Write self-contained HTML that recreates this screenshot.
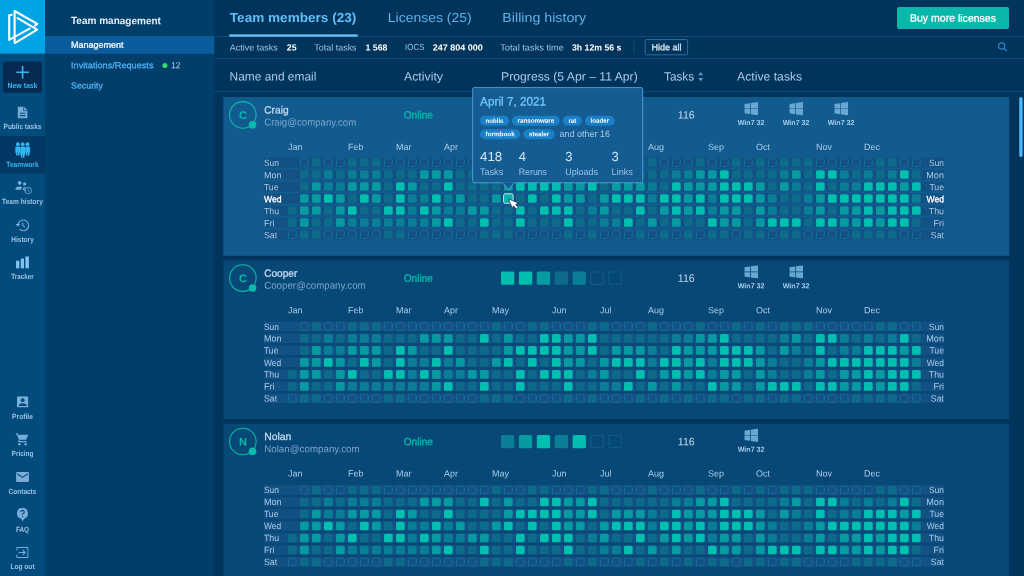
<!DOCTYPE html>
<html><head><meta charset="utf-8"><title>Team management</title>
<style>
html,body{margin:0;padding:0;}
body{width:1024px;height:576px;overflow:hidden;position:relative;background:#01345b;font-family:"Liberation Sans",sans-serif;}
.r{position:absolute;display:block;}
.t{position:absolute;white-space:nowrap;display:block;}
#w{position:absolute;left:0;top:0;width:1024px;height:576px;overflow:hidden;will-change:transform;}
</style></head><body><div id="w">
<svg class="r" style="left:0;top:0" width="1024" height="576" viewBox="0 0 1024 576"><rect x="0.00" y="0.00" width="1024.00" height="576.00" fill="#01345b"/><rect x="45.00" y="0.00" width="169.30" height="576.00" fill="#013e6a"/><rect x="0.00" y="0.00" width="45.00" height="576.00" fill="#014c7d"/><rect x="0.00" y="0.00" width="45.00" height="53.60" fill="#00a4e4"/><rect x="0.00" y="136.00" width="45.00" height="37.60" fill="#043864"/><rect x="45.00" y="36.00" width="169.30" height="17.80" fill="#0b5c9c"/><rect x="214.30" y="36.00" width="810.00" height="1.00" fill="#0d4c80"/><rect x="214.30" y="58.00" width="810.00" height="1.00" fill="#0d4c80"/><rect x="214.30" y="91.20" width="810.00" height="1.00" fill="#0d4c80"/><svg x="0" y="0" width="45" height="54" viewBox="0 0 45 54" fill="none" stroke="#fff" stroke-width="2.1" stroke-linecap="round" stroke-linejoin="round">
<path d="M11.7 14.8 L9.2 15.2 L9.2 39.9 L29.6 28.7"/>
<path d="M14.6 42.6 L14.6 11 L37.2 23.9 L35 25.6"/>
<path d="M17.6 18.1 L37.2 29.7 L15.2 42.8"/>
</svg><rect x="3.00" y="61.60" width="39.00" height="31.20" fill="#052b52" rx="2.5"/><svg x="15" y="64.5" width="15" height="15" viewBox="0 0 15 15" stroke="#33b6f2" stroke-width="1.6" fill="none"><path d="M7.6 1.4V14M1.3 7.7H13.9"/></svg></svg>
<span class="t" style="left:7px;top:80px;font-size:7.6px;line-height:9px;color:#33b6f2;transform-origin:0 7px;font-weight:700;transform:translate(0.55px,0.70px) rotate(0.03deg) scaleX(0.9074);">New task</span>
<span class="t" style="left:3px;top:121px;font-size:7.6px;line-height:9px;color:#9cc1e3;transform-origin:0 7px;font-weight:700;transform:translate(0.55px,0.90px) rotate(0.03deg) scaleX(0.8545);">Public tasks</span>
<span class="t" style="left:6px;top:159px;font-size:7.6px;line-height:9px;color:#33b6f2;transform-origin:0 7px;font-weight:700;transform:translate(0.35px,0.80px) rotate(0.03deg) scaleX(0.8723);">Teamwork</span>
<span class="t" style="left:2px;top:197px;font-size:7.6px;line-height:9px;color:#9cc1e3;transform-origin:0 7px;font-weight:700;transform:translate(0.10px,0.00px) rotate(0.03deg) scaleX(0.8729);">Team history</span>
<span class="t" style="left:11px;top:234px;font-size:7.6px;line-height:9px;color:#9cc1e3;transform-origin:0 7px;font-weight:700;transform:translate(0.20px,0.70px) rotate(0.03deg) scaleX(0.8631);">History</span>
<span class="t" style="left:11px;top:271px;font-size:7.6px;line-height:9px;color:#9cc1e3;transform-origin:0 7px;font-weight:700;transform:translate(0.30px,0.75px) rotate(0.03deg) scaleX(0.8282);">Tracker</span>
<span class="t" style="left:12px;top:411px;font-size:7.6px;line-height:9px;color:#9cc1e3;transform-origin:0 7px;font-weight:700;transform:translate(0.10px,0.50px) rotate(0.03deg) scaleX(0.8795);">Profile</span>
<span class="t" style="left:11px;top:449px;font-size:7.6px;line-height:9px;color:#9cc1e3;transform-origin:0 7px;font-weight:700;transform:translate(0.60px,0.40px) rotate(0.03deg) scaleX(0.8462);">Pricing</span>
<span class="t" style="left:8px;top:486px;font-size:7.6px;line-height:9px;color:#9cc1e3;transform-origin:0 7px;font-weight:700;transform:translate(0.60px,0.90px) rotate(0.03deg) scaleX(0.8550);">Contacts</span>
<span class="t" style="left:15px;top:524px;font-size:7.6px;line-height:9px;color:#9cc1e3;transform-origin:0 7px;font-weight:700;transform:translate(0.90px,0.60px) rotate(0.03deg) scaleX(0.8449);">FAQ</span>
<span class="t" style="left:10px;top:561px;font-size:7.6px;line-height:9px;color:#9cc1e3;transform-origin:0 7px;font-weight:700;transform:translate(0.40px,0.90px) rotate(0.03deg) scaleX(0.8688);">Log out</span>
<svg class="r" style="left:0;top:0" width="1024" height="576" viewBox="0 0 1024 576"><svg x="17.6" y="106.6" width="10" height="12" viewBox="0 0 10 12"><path d="M1.2 0H6.2L10 3.8V10.8Q10 12 8.8 12H1.2Q0 12 0 10.8V1.2Q0 0 1.2 0Z" fill="#79add8"/><path d="M6 0.6V4H9.4" fill="none" stroke="#014c7d" stroke-width="0.8"/><path d="M2.2 6.6H7.8M2.2 9H7.8" stroke="#014c7d" stroke-width="1.1"/></svg><svg x="15" y="142" width="16" height="16" viewBox="0 0 16 16" fill="#33b6f2"><circle cx="2.9" cy="2.2" r="1.9"/><circle cx="7.7" cy="2.2" r="1.9"/><circle cx="12.5" cy="2.2" r="1.9"/><path d="M1.6 4.6H3.9Q5.2 4.6 5.2 5.9V10.2Q5.2 11.0 4.5 11.0V13.6H3.0V10.0H2.5V13.6H1.0V11.0Q0.3 11.0 0.3 10.2V5.9Q0.3 4.6 1.6 4.6Z"/><path d="M6.55 4.6H8.85Q10.15 4.6 10.15 5.9V12.4Q10.15 13.200000000000001 9.45 13.200000000000001V15.8H7.95V12.200000000000001H7.45V15.8H5.95V13.200000000000001Q5.25 13.200000000000001 5.25 12.4V5.9Q5.25 4.6 6.55 4.6Z"/><path d="M11.5 4.6H13.799999999999999Q15.1 4.6 15.1 5.9V10.2Q15.1 11.0 14.399999999999999 11.0V13.6H12.899999999999999V10.0H12.399999999999999V13.6H10.899999999999999V11.0Q10.2 11.0 10.2 10.2V5.9Q10.2 4.6 11.5 4.6Z"/></svg><svg x="15" y="180.5" width="18" height="15" viewBox="0 0 18 15" fill="#79add8">
<circle cx="4.6" cy="2.4" r="1.9"/><circle cx="9.6" cy="3.4" r="1.6"/>
<path d="M0.4 9.2Q0.6 6 4.6 6Q6.4 6 7.2 6.6L5.8 9.2Z"/>
<path d="M7.4 9.2L8.6 6.6Q9.6 6.4 10.6 6.8L9 9.2Z"/>
<circle cx="13.2" cy="10" r="3.3" fill="none" stroke="#79add8" stroke-width="0.8"/>
<path d="M13.2 8V10.2L14.6 11" fill="none" stroke="#79add8" stroke-width="0.7"/>
<path d="M8.6 9.2l1.4 1.8 1.2-1.8z"/>
</svg><svg x="14.5" y="218.5" width="15.75" height="13.65" viewBox="0 0 15 13" fill="none" stroke="#79add8" stroke-width="1.1">
<path d="M3.3 6.5A5.1 5.1 0 1 1 4.8 10.2"/><path d="M7.9 3.8V6.9L10.2 8.2" stroke-width="1"/><path d="M0.8 5.2L3.3 7.6L5.6 5.2Z" fill="#79add8" stroke="none"/>
</svg><rect x="16.00" y="260.70" width="3.40" height="7.60" fill="#84c1ef"/><rect x="20.80" y="258.60" width="3.20" height="9.70" fill="#84c1ef"/><rect x="25.40" y="256.50" width="3.50" height="11.80" fill="#84c1ef"/><svg x="17" y="396.2" width="11.4" height="11.4" viewBox="0 0 12 12"><rect width="12" height="12" rx="1.4" fill="#79add8"/>
<circle cx="6" cy="4.2" r="2" fill="#014c7d"/><path d="M1.8 10.2Q1.8 7.4 6 7.4Q10.2 7.4 10.2 10.2Z" fill="#014c7d"/></svg><svg x="15.4" y="432.8" width="13" height="13" viewBox="0 0 13 13" fill="#79add8">
<path d="M0.2 0.4H2.2L2.9 2H12.4Q12.9 2 12.7 2.6L10.9 6.4Q10.6 7 10 7H4.6L3.9 8.3H11.2V9.5H3.6Q2.2 9.5 2.8 8.2L3.6 6.6L1.4 1.6H0.2Z"/>
<circle cx="4" cy="11.4" r="1.2"/><circle cx="10.2" cy="11.4" r="1.2"/></svg><svg x="16.1" y="472" width="12.8" height="10" viewBox="0 0 12.8 10"><rect width="12.8" height="10" rx="1" fill="#79add8"/><path d="M1 1.8L6.4 5.4L11.8 1.8" fill="none" stroke="#014c7d" stroke-width="1.1"/></svg><svg x="16.5" y="507.6" width="12" height="14" viewBox="0 0 12 14"><path d="M6 0.2A5.6 5.6 0 0 1 8 11L6 13.6L4.6 11.2A5.6 5.6 0 0 1 6 0.2Z" fill="#79add8"/>
<path d="M4.2 4.4Q4.2 2.8 6 2.8Q7.8 2.8 7.8 4.3Q7.8 5.3 6.6 5.9Q6 6.3 6 7.2" fill="none" stroke="#014c7d" stroke-width="1.1"/><circle cx="6" cy="9" r="0.75" fill="#014c7d"/></svg><svg x="16.2" y="546.8" width="12.4" height="11.4" viewBox="0 0 12.4 11.4" fill="none" stroke="#79add8" stroke-width="1.1">
<path d="M0.6 3.6V1.6Q0.6 0.6 1.6 0.6H10.8Q11.8 0.6 11.8 1.6V9.8Q11.8 10.8 10.8 10.8H1.6Q0.6 10.8 0.6 9.8V7.8"/><path d="M2.4 5.7H8.6M6.6 3.4L8.9 5.7L6.6 8"/></svg></svg>
<span class="t" style="left:71px;top:15px;font-size:10.4px;line-height:11px;color:#e6f0fa;transform-origin:0 9px;font-weight:700;transform:translate(0.00px,0.10px) rotate(0.03deg) scaleX(0.9632);">Team management</span>
<span class="t" style="left:71px;top:39px;font-size:8.7px;line-height:10px;color:#f2f7fc;transform-origin:0 8px;-webkit-text-stroke:0.3px currentColor;transform:translate(0.00px,0.80px) rotate(0.03deg) scaleX(1.0358);">Management</span>
<span class="t" style="left:71px;top:60px;font-size:8.7px;line-height:10px;color:#52aef0;transform-origin:0 8px;-webkit-text-stroke:0.3px currentColor;transform:translate(0.00px,0.20px) rotate(0.03deg) scaleX(1.0543);">Invitations/Requests</span>
<svg class="r" style="left:0;top:0" width="1024" height="576" viewBox="0 0 1024 576"><circle cx="164.90" cy="65.40" r="2.50" fill="#2de06a"/></svg>
<span class="t" style="left:171px;top:60px;font-size:8.7px;line-height:10px;color:#b5d3ee;transform-origin:0 8px;transform:translate(0.20px,0.20px) rotate(0.03deg) scaleX(0.9507);">12</span>
<span class="t" style="left:71px;top:80px;font-size:8.7px;line-height:10px;color:#52aef0;transform-origin:0 8px;-webkit-text-stroke:0.3px currentColor;transform:translate(0.00px,0.60px) rotate(0.03deg) scaleX(1.0182);">Security</span>
<span class="t" style="left:229px;top:9px;font-size:13.2px;line-height:15px;color:#62bdf8;transform-origin:0 12px;font-weight:700;transform:translate(0.80px,0.90px) rotate(0.03deg) scaleX(1.0292);">Team members (23)</span>
<svg class="r" style="left:0;top:0" width="1024" height="576" viewBox="0 0 1024 576"><rect x="229.30" y="34.40" width="128.40" height="2.30" fill="#6ac4fb"/></svg>
<span class="t" style="left:387px;top:9px;font-size:13.2px;line-height:15px;color:#62b0ea;transform-origin:0 12px;transform:translate(0.80px,0.90px) rotate(0.03deg) scaleX(1.0601);">Licenses (25)</span>
<span class="t" style="left:502px;top:9px;font-size:13.2px;line-height:15px;color:#62b0ea;transform-origin:0 12px;transform:translate(0.30px,0.90px) rotate(0.03deg) scaleX(1.0802);">Billing history</span>
<svg class="r" style="left:0;top:0" width="1024" height="576" viewBox="0 0 1024 576"><rect x="897.00" y="7.00" width="112.00" height="22.00" fill="#09b8ab" rx="2"/></svg>
<span class="t" style="left:910px;top:11px;font-size:10.6px;line-height:12px;color:#ffffff;transform-origin:0 10px;-webkit-text-stroke:0.3px currentColor;transform:translate(0.00px,0.60px) rotate(0.03deg) scaleX(0.9931);">Buy more licenses</span>
<span class="t" style="left:229px;top:42px;font-size:8.9px;line-height:10px;color:#9cc3e6;transform-origin:0 8px;transform:translate(0.80px,0.40px) rotate(0.03deg) scaleX(1.0151);">Active tasks</span>
<span class="t" style="left:286px;top:42px;font-size:8.9px;line-height:10px;color:#ffffff;transform-origin:0 8px;font-weight:700;transform:translate(0.80px,0.40px) rotate(0.03deg) scaleX(0.9899);">25</span>
<span class="t" style="left:314px;top:42px;font-size:8.9px;line-height:10px;color:#9cc3e6;transform-origin:0 8px;transform:translate(0.30px,0.40px) rotate(0.03deg) scaleX(1.0085);">Total tasks</span>
<span class="t" style="left:365px;top:42px;font-size:8.9px;line-height:10px;color:#ffffff;transform-origin:0 8px;font-weight:700;transform:translate(0.50px,0.40px) rotate(0.03deg) scaleX(0.9833);">1 568</span>
<span class="t" style="left:405px;top:42px;font-size:8.9px;line-height:10px;color:#9cc3e6;transform-origin:0 8px;transform:translate(0.10px,0.40px) rotate(0.03deg) scaleX(0.8916);">IOCS</span>
<span class="t" style="left:432px;top:42px;font-size:8.9px;line-height:10px;color:#ffffff;transform-origin:0 8px;font-weight:700;transform:translate(0.70px,0.40px) rotate(0.03deg) scaleX(1.0163);">247 804 000</span>
<span class="t" style="left:500px;top:42px;font-size:8.9px;line-height:10px;color:#9cc3e6;transform-origin:0 8px;transform:translate(0.20px,0.40px) rotate(0.03deg) scaleX(1.0419);">Total tasks time</span>
<span class="t" style="left:572px;top:42px;font-size:8.9px;line-height:10px;color:#ffffff;transform-origin:0 8px;font-weight:700;transform:translate(0.00px,0.40px) rotate(0.03deg) scaleX(0.9828);">3h 12m 56 s</span>
<svg class="r" style="left:0;top:0" width="1024" height="576" viewBox="0 0 1024 576"><rect x="633.50" y="41.00" width="1.00" height="12.00" fill="#164f80"/><rect x="645.20" y="39.60" width="42.40" height="15.20" fill="none" rx="1.2" stroke="#2c6ea6" stroke-width="1"/></svg>
<span class="t" style="left:651px;top:42px;font-size:8.9px;line-height:10px;color:#d5e6f7;transform-origin:0 8px;-webkit-text-stroke:0.3px currentColor;transform:translate(0.40px,0.20px) rotate(0.03deg) scaleX(1.0175);">Hide all</span>
<svg class="r" style="left:0;top:0" width="1024" height="576" viewBox="0 0 1024 576"><svg x="996" y="40" width="13" height="13" viewBox="0 0 13 13" fill="none" stroke="#2e88c9" stroke-width="1.15"><circle cx="5.7" cy="6" r="3.1"/><path d="M8 8.3L10.8 11"/></svg></svg>
<span class="t" style="left:229px;top:69px;font-size:12px;line-height:14px;color:#a9cae8;transform-origin:0 11px;transform:translate(0.60px,0.50px) rotate(0.03deg) scaleX(0.9923);">Name and email</span>
<span class="t" style="left:403px;top:69px;font-size:12px;line-height:14px;color:#a9cae8;transform-origin:0 11px;transform:translate(0.90px,0.50px) rotate(0.03deg) scaleX(1.0288);">Activity</span>
<span class="t" style="left:501px;top:69px;font-size:12px;line-height:14px;color:#a9cae8;transform-origin:0 11px;transform:translate(0.10px,0.50px) rotate(0.03deg) scaleX(1.0155);">Progress (5 Apr – 11 Apr)</span>
<span class="t" style="left:664px;top:69px;font-size:12px;line-height:14px;color:#a9cae8;transform-origin:0 11px;transform:translate(0.00px,0.50px) rotate(0.03deg) scaleX(0.9813);">Tasks</span>
<svg class="r" style="left:0;top:0" width="1024" height="576" viewBox="0 0 1024 576"><svg x="698.2" y="72" width="5" height="9.4" viewBox="0 0 5 9.4" fill="#6496c4"><path d="M2.5 0L5 3.3H0Z"/><path d="M2.5 9.3L5 6H0Z"/></svg></svg>
<span class="t" style="left:737px;top:69px;font-size:12px;line-height:14px;color:#a9cae8;transform-origin:0 11px;transform:translate(0.10px,0.50px) rotate(0.03deg) scaleX(1.0169);">Active tasks</span>
<svg class="r" style="left:0;top:0" width="1024" height="576" viewBox="0 0 1024 576"><rect x="1019.20" y="97.00" width="3.40" height="60.00" fill="#4db8f8" rx="1.7"/><rect x="223.30" y="97.00" width="785.90" height="158.80" fill="#125b8f"/><circle cx="242.85" cy="114.90" r="13.30" fill="none" stroke="#08bbac" stroke-width="1.1"/></svg>
<span class="t" style="left:238px;top:109px;font-size:11px;line-height:12px;color:#08bbac;transform-origin:0 10px;font-weight:700;transform:translate(0.93px,0.00px) rotate(0.03deg) scaleX(1.0000);">C</span>
<svg class="r" style="left:0;top:0" width="1024" height="576" viewBox="0 0 1024 576"><circle cx="252.60" cy="124.80" r="3.85" fill="#08bbac"/></svg>
<span class="t" style="left:264px;top:104px;font-size:10.4px;line-height:11px;color:#c3daf0;transform-origin:0 9px;-webkit-text-stroke:0.3px currentColor;transform:translate(0.20px,0.50px) rotate(0.03deg) scaleX(0.9818);">Craig</span>
<span class="t" style="left:264px;top:116px;font-size:10.1px;line-height:11px;color:#7ba5cc;transform-origin:0 9px;transform:translate(0.20px,0.60px) rotate(0.03deg) scaleX(0.9543);">Craig@company.com</span>
<span class="t" style="left:403px;top:108px;font-size:10.6px;line-height:12px;color:#08bbac;transform-origin:0 10px;-webkit-text-stroke:0.3px currentColor;transform:translate(0.70px,0.60px) rotate(0.03deg) scaleX(0.9562);">Online</span>
<span class="t" style="left:677px;top:108px;font-size:10.6px;line-height:12px;color:#c5dcf2;transform-origin:0 10px;transform:translate(0.80px,0.60px) rotate(0.03deg) scaleX(1.0060);">116</span>
<svg class="r" style="left:0;top:0" width="1024" height="576" viewBox="0 0 1024 576"><svg x="744.30" y="102.00" width="13.9" height="13.4" viewBox="0 0 13.9 13.4" fill="#68a7d2"><path d="M0 2.1L5.9 1.2V6.4H0Z"/><path d="M6.6 1.1L13.9 0V6.4H6.6Z"/><path d="M0 7H5.9V12.2L0 11.3Z"/><path d="M6.6 7H13.9V13.4L6.6 12.3Z"/></svg></svg>
<span class="t" style="left:737px;top:118px;font-size:7.2px;line-height:9px;color:#a9cdea;transform-origin:0 7px;font-weight:700;transform:translate(0.65px,0.10px) rotate(0.03deg) scaleX(0.9910);">Win7 32</span>
<svg class="r" style="left:0;top:0" width="1024" height="576" viewBox="0 0 1024 576"><svg x="789.30" y="102.00" width="13.9" height="13.4" viewBox="0 0 13.9 13.4" fill="#68a7d2"><path d="M0 2.1L5.9 1.2V6.4H0Z"/><path d="M6.6 1.1L13.9 0V6.4H6.6Z"/><path d="M0 7H5.9V12.2L0 11.3Z"/><path d="M6.6 7H13.9V13.4L6.6 12.3Z"/></svg></svg>
<span class="t" style="left:782px;top:118px;font-size:7.2px;line-height:9px;color:#a9cdea;transform-origin:0 7px;font-weight:700;transform:translate(0.65px,0.10px) rotate(0.03deg) scaleX(0.9910);">Win7 32</span>
<svg class="r" style="left:0;top:0" width="1024" height="576" viewBox="0 0 1024 576"><svg x="834.30" y="102.00" width="13.9" height="13.4" viewBox="0 0 13.9 13.4" fill="#68a7d2"><path d="M0 2.1L5.9 1.2V6.4H0Z"/><path d="M6.6 1.1L13.9 0V6.4H6.6Z"/><path d="M0 7H5.9V12.2L0 11.3Z"/><path d="M6.6 7H13.9V13.4L6.6 12.3Z"/></svg></svg>
<span class="t" style="left:827px;top:118px;font-size:7.2px;line-height:9px;color:#a9cdea;transform-origin:0 7px;font-weight:700;transform:translate(0.65px,0.10px) rotate(0.03deg) scaleX(0.9910);">Win7 32</span>
<span class="t" style="left:288px;top:142px;font-size:9px;line-height:10px;color:#a9cbe8;transform-origin:0 8px;transform:translate(0.00px,0.00px) rotate(0.03deg) scaleX(1.0000);">Jan</span>
<span class="t" style="left:348px;top:142px;font-size:9px;line-height:10px;color:#a9cbe8;transform-origin:0 8px;transform:translate(0.00px,0.00px) rotate(0.03deg) scaleX(1.0000);">Feb</span>
<span class="t" style="left:396px;top:142px;font-size:9px;line-height:10px;color:#a9cbe8;transform-origin:0 8px;transform:translate(0.00px,0.00px) rotate(0.03deg) scaleX(1.0000);">Mar</span>
<span class="t" style="left:444px;top:142px;font-size:9px;line-height:10px;color:#a9cbe8;transform-origin:0 8px;transform:translate(0.00px,0.00px) rotate(0.03deg) scaleX(1.0000);">Apr</span>
<span class="t" style="left:492px;top:142px;font-size:9px;line-height:10px;color:#a9cbe8;transform-origin:0 8px;transform:translate(0.00px,0.00px) rotate(0.03deg) scaleX(1.0000);">May</span>
<span class="t" style="left:552px;top:142px;font-size:9px;line-height:10px;color:#a9cbe8;transform-origin:0 8px;transform:translate(0.00px,0.00px) rotate(0.03deg) scaleX(1.0000);">Jun</span>
<span class="t" style="left:600px;top:142px;font-size:9px;line-height:10px;color:#a9cbe8;transform-origin:0 8px;transform:translate(0.00px,0.00px) rotate(0.03deg) scaleX(1.0000);">Jul</span>
<span class="t" style="left:648px;top:142px;font-size:9px;line-height:10px;color:#a9cbe8;transform-origin:0 8px;transform:translate(0.00px,0.00px) rotate(0.03deg) scaleX(1.0000);">Aug</span>
<span class="t" style="left:708px;top:142px;font-size:9px;line-height:10px;color:#a9cbe8;transform-origin:0 8px;transform:translate(0.00px,0.00px) rotate(0.03deg) scaleX(1.0000);">Sep</span>
<span class="t" style="left:756px;top:142px;font-size:9px;line-height:10px;color:#a9cbe8;transform-origin:0 8px;transform:translate(0.00px,0.00px) rotate(0.03deg) scaleX(1.0000);">Oct</span>
<span class="t" style="left:816px;top:142px;font-size:9px;line-height:10px;color:#a9cbe8;transform-origin:0 8px;transform:translate(0.00px,0.00px) rotate(0.03deg) scaleX(1.0000);">Nov</span>
<span class="t" style="left:864px;top:142px;font-size:9px;line-height:10px;color:#a9cbe8;transform-origin:0 8px;transform:translate(0.00px,0.00px) rotate(0.03deg) scaleX(1.0000);">Dec</span>
<svg class="r" style="left:0;top:0" width="1024" height="576" viewBox="0 0 1024 576"><svg x="264" y="156.50" width="681" height="86" viewBox="0 0 681 86"><rect x="0" y="1.20" width="680.4" height="9.6" fill="#135083"/><rect x="36.5" y="2.15" width="7.7" height="7.7" rx="1" fill="#154f87" stroke="#107094" stroke-width="1"/><rect x="48" y="1.65" width="8.7" height="8.7" rx="1.5" fill="#0e6a8b"/><rect x="60.5" y="2.15" width="7.7" height="7.7" rx="1" fill="#154f87" stroke="#107094" stroke-width="1"/><rect x="72.5" y="2.15" width="7.7" height="7.7" rx="1" fill="#154f87" stroke="#107094" stroke-width="1"/><rect x="84" y="1.65" width="8.7" height="8.7" rx="1.5" fill="#0e6a8b"/><rect x="96" y="1.65" width="8.7" height="8.7" rx="1.5" fill="#0e6a8b"/><rect x="108" y="1.65" width="8.7" height="8.7" rx="1.5" fill="#0e6a8b"/><rect x="120.5" y="2.15" width="7.7" height="7.7" rx="1" fill="#154f87" stroke="#107094" stroke-width="1"/><rect x="132.5" y="2.15" width="7.7" height="7.7" rx="1" fill="#154f87" stroke="#107094" stroke-width="1"/><rect x="144.5" y="2.15" width="7.7" height="7.7" rx="1" fill="#154f87" stroke="#107094" stroke-width="1"/><rect x="156.5" y="2.15" width="7.7" height="7.7" rx="1" fill="#154f87" stroke="#107094" stroke-width="1"/><rect x="168.5" y="2.15" width="7.7" height="7.7" rx="1" fill="#154f87" stroke="#107094" stroke-width="1"/><rect x="180.5" y="2.15" width="7.7" height="7.7" rx="1" fill="#154f87" stroke="#107094" stroke-width="1"/><rect x="192.5" y="2.15" width="7.7" height="7.7" rx="1" fill="#154f87" stroke="#107094" stroke-width="1"/><rect x="204.5" y="2.15" width="7.7" height="7.7" rx="1" fill="#154f87" stroke="#107094" stroke-width="1"/><rect x="216.5" y="2.15" width="7.7" height="7.7" rx="1" fill="#154f87" stroke="#107094" stroke-width="1"/><rect x="228" y="1.65" width="8.7" height="8.7" rx="1.5" fill="#0e6a8b"/><rect x="240.5" y="2.15" width="7.7" height="7.7" rx="1" fill="#154f87" stroke="#107094" stroke-width="1"/><rect x="252.5" y="2.15" width="7.7" height="7.7" rx="1" fill="#154f87" stroke="#107094" stroke-width="1"/><rect x="264" y="1.65" width="8.7" height="8.7" rx="1.5" fill="#0e6a8b"/><rect x="276" y="1.65" width="8.7" height="8.7" rx="1.5" fill="#0e6a8b"/><rect x="288.5" y="2.15" width="7.7" height="7.7" rx="1" fill="#154f87" stroke="#107094" stroke-width="1"/><rect x="300.5" y="2.15" width="7.7" height="7.7" rx="1" fill="#154f87" stroke="#107094" stroke-width="1"/><rect x="312.5" y="2.15" width="7.7" height="7.7" rx="1" fill="#154f87" stroke="#107094" stroke-width="1"/><rect x="324" y="1.65" width="8.7" height="8.7" rx="1.5" fill="#0e6a8b"/><rect x="336" y="1.65" width="8.7" height="8.7" rx="1.5" fill="#0e6a8b"/><rect x="348.5" y="2.15" width="7.7" height="7.7" rx="1" fill="#154f87" stroke="#107094" stroke-width="1"/><rect x="360.5" y="2.15" width="7.7" height="7.7" rx="1" fill="#154f87" stroke="#107094" stroke-width="1"/><rect x="372.5" y="2.15" width="7.7" height="7.7" rx="1" fill="#154f87" stroke="#107094" stroke-width="1"/><rect x="384" y="1.65" width="8.7" height="8.7" rx="1.5" fill="#0e6a8b"/><rect x="396.5" y="2.15" width="7.7" height="7.7" rx="1" fill="#154f87" stroke="#107094" stroke-width="1"/><rect x="408.5" y="2.15" width="7.7" height="7.7" rx="1" fill="#154f87" stroke="#107094" stroke-width="1"/><rect x="420.5" y="2.15" width="7.7" height="7.7" rx="1" fill="#154f87" stroke="#107094" stroke-width="1"/><rect x="432" y="1.65" width="8.7" height="8.7" rx="1.5" fill="#0e6a8b"/><rect x="444.5" y="2.15" width="7.7" height="7.7" rx="1" fill="#154f87" stroke="#107094" stroke-width="1"/><rect x="456.5" y="2.15" width="7.7" height="7.7" rx="1" fill="#154f87" stroke="#107094" stroke-width="1"/><rect x="468" y="1.65" width="8.7" height="8.7" rx="1.5" fill="#0e6a8b"/><rect x="480.5" y="2.15" width="7.7" height="7.7" rx="1" fill="#154f87" stroke="#107094" stroke-width="1"/><rect x="492" y="1.65" width="8.7" height="8.7" rx="1.5" fill="#0e6a8b"/><rect x="504.5" y="2.15" width="7.7" height="7.7" rx="1" fill="#154f87" stroke="#107094" stroke-width="1"/><rect x="516" y="1.65" width="8.7" height="8.7" rx="1.5" fill="#0e6a8b"/><rect x="528" y="1.65" width="8.7" height="8.7" rx="1.5" fill="#0e6a8b"/><rect x="540" y="1.65" width="8.7" height="8.7" rx="1.5" fill="#0e6a8b"/><rect x="552.5" y="2.15" width="7.7" height="7.7" rx="1" fill="#154f87" stroke="#107094" stroke-width="1"/><rect x="564.5" y="2.15" width="7.7" height="7.7" rx="1" fill="#154f87" stroke="#107094" stroke-width="1"/><rect x="576.5" y="2.15" width="7.7" height="7.7" rx="1" fill="#154f87" stroke="#107094" stroke-width="1"/><rect x="588.5" y="2.15" width="7.7" height="7.7" rx="1" fill="#154f87" stroke="#107094" stroke-width="1"/><rect x="600.5" y="2.15" width="7.7" height="7.7" rx="1" fill="#154f87" stroke="#107094" stroke-width="1"/><rect x="612" y="1.65" width="8.7" height="8.7" rx="1.5" fill="#0e6a8b"/><rect x="624" y="1.65" width="8.7" height="8.7" rx="1.5" fill="#0e6a8b"/><rect x="636.5" y="2.15" width="7.7" height="7.7" rx="1" fill="#154f87" stroke="#107094" stroke-width="1"/><rect x="648.5" y="2.15" width="7.7" height="7.7" rx="1" fill="#154f87" stroke="#107094" stroke-width="1"/><rect x="0" y="13.20" width="680.4" height="9.6" fill="#135083"/><rect x="36" y="13.65" width="8.7" height="8.7" rx="1.5" fill="#0e6a8b"/><rect x="48" y="13.65" width="8.7" height="8.7" rx="1.5" fill="#0e6a8b"/><rect x="60" y="13.65" width="8.7" height="8.7" rx="1.5" fill="#0b7e97"/><rect x="72" y="13.65" width="8.7" height="8.7" rx="1.5" fill="#0e6a8b"/><rect x="84" y="13.65" width="8.7" height="8.7" rx="1.5" fill="#0b7e97"/><rect x="96" y="13.65" width="8.7" height="8.7" rx="1.5" fill="#0b7e97"/><rect x="108" y="13.65" width="8.7" height="8.7" rx="1.5" fill="#0b7e97"/><rect x="120" y="13.65" width="8.7" height="8.7" rx="1.5" fill="#0e6a8b"/><rect x="132" y="13.65" width="8.7" height="8.7" rx="1.5" fill="#0e6a8b"/><rect x="144" y="13.65" width="8.7" height="8.7" rx="1.5" fill="#0e6a8b"/><rect x="156" y="13.65" width="8.7" height="8.7" rx="1.5" fill="#079ba1"/><rect x="168" y="13.65" width="8.7" height="8.7" rx="1.5" fill="#079ba1"/><rect x="180" y="13.65" width="8.7" height="8.7" rx="1.5" fill="#079ba1"/><rect x="192" y="13.65" width="8.7" height="8.7" rx="1.5" fill="#0e6a8b"/><rect x="204" y="13.65" width="8.7" height="8.7" rx="1.5" fill="#0e6a8b"/><rect x="216" y="13.65" width="8.7" height="8.7" rx="1.5" fill="#00bfb0"/><rect x="228" y="13.65" width="8.7" height="8.7" rx="1.5" fill="#0e6a8b"/><rect x="240" y="13.65" width="8.7" height="8.7" rx="1.5" fill="#079ba1"/><rect x="252" y="13.65" width="8.7" height="8.7" rx="1.5" fill="#0e6a8b"/><rect x="264" y="13.65" width="8.7" height="8.7" rx="1.5" fill="#0e6a8b"/><rect x="276" y="13.65" width="8.7" height="8.7" rx="1.5" fill="#00bfb0"/><rect x="288" y="13.65" width="8.7" height="8.7" rx="1.5" fill="#00bfb0"/><rect x="300" y="13.65" width="8.7" height="8.7" rx="1.5" fill="#079ba1"/><rect x="312" y="13.65" width="8.7" height="8.7" rx="1.5" fill="#079ba1"/><rect x="324" y="13.65" width="8.7" height="8.7" rx="1.5" fill="#00bfb0"/><rect x="336" y="13.65" width="8.7" height="8.7" rx="1.5" fill="#0e6a8b"/><rect x="348" y="13.65" width="8.7" height="8.7" rx="1.5" fill="#0e6a8b"/><rect x="360" y="13.65" width="8.7" height="8.7" rx="1.5" fill="#0e6a8b"/><rect x="372" y="13.65" width="8.7" height="8.7" rx="1.5" fill="#0e6a8b"/><rect x="384" y="13.65" width="8.7" height="8.7" rx="1.5" fill="#0e6a8b"/><rect x="396" y="13.65" width="8.7" height="8.7" rx="1.5" fill="#0e6a8b"/><rect x="408" y="13.65" width="8.7" height="8.7" rx="1.5" fill="#0b7e97"/><rect x="420" y="13.65" width="8.7" height="8.7" rx="1.5" fill="#0b7e97"/><rect x="432" y="13.65" width="8.7" height="8.7" rx="1.5" fill="#079ba1"/><rect x="444" y="13.65" width="8.7" height="8.7" rx="1.5" fill="#079ba1"/><rect x="456" y="13.65" width="8.7" height="8.7" rx="1.5" fill="#00bfb0"/><rect x="468" y="13.65" width="8.7" height="8.7" rx="1.5" fill="#0e6a8b"/><rect x="480" y="13.65" width="8.7" height="8.7" rx="1.5" fill="#0e6a8b"/><rect x="492" y="13.65" width="8.7" height="8.7" rx="1.5" fill="#0e6a8b"/><rect x="504" y="13.65" width="8.7" height="8.7" rx="1.5" fill="#0e6a8b"/><rect x="516" y="13.65" width="8.7" height="8.7" rx="1.5" fill="#0b7e97"/><rect x="528" y="13.65" width="8.7" height="8.7" rx="1.5" fill="#079ba1"/><rect x="540" y="13.65" width="8.7" height="8.7" rx="1.5" fill="#0e6a8b"/><rect x="552" y="13.65" width="8.7" height="8.7" rx="1.5" fill="#00bfb0"/><rect x="564" y="13.65" width="8.7" height="8.7" rx="1.5" fill="#00bfb0"/><rect x="576" y="13.65" width="8.7" height="8.7" rx="1.5" fill="#0b7e97"/><rect x="588" y="13.65" width="8.7" height="8.7" rx="1.5" fill="#0e6a8b"/><rect x="600" y="13.65" width="8.7" height="8.7" rx="1.5" fill="#0b7e97"/><rect x="612" y="13.65" width="8.7" height="8.7" rx="1.5" fill="#0e6a8b"/><rect x="624" y="13.65" width="8.7" height="8.7" rx="1.5" fill="#0b7e97"/><rect x="636" y="13.65" width="8.7" height="8.7" rx="1.5" fill="#00bfb0"/><rect x="648" y="13.65" width="8.7" height="8.7" rx="1.5" fill="#0e6a8b"/><rect x="0" y="25.20" width="680.4" height="9.6" fill="#135083"/><rect x="36" y="25.65" width="8.7" height="8.7" rx="1.5" fill="#0e6a8b"/><rect x="48" y="25.65" width="8.7" height="8.7" rx="1.5" fill="#079ba1"/><rect x="60" y="25.65" width="8.7" height="8.7" rx="1.5" fill="#0b7e97"/><rect x="72" y="25.65" width="8.7" height="8.7" rx="1.5" fill="#0b7e97"/><rect x="84" y="25.65" width="8.7" height="8.7" rx="1.5" fill="#079ba1"/><rect x="96" y="25.65" width="8.7" height="8.7" rx="1.5" fill="#079ba1"/><rect x="108" y="25.65" width="8.7" height="8.7" rx="1.5" fill="#079ba1"/><rect x="120" y="25.65" width="8.7" height="8.7" rx="1.5" fill="#0e6a8b"/><rect x="132" y="25.65" width="8.7" height="8.7" rx="1.5" fill="#00bfb0"/><rect x="144" y="25.65" width="8.7" height="8.7" rx="1.5" fill="#079ba1"/><rect x="156" y="25.65" width="8.7" height="8.7" rx="1.5" fill="#0e6a8b"/><rect x="168" y="25.65" width="8.7" height="8.7" rx="1.5" fill="#0e6a8b"/><rect x="180" y="25.65" width="8.7" height="8.7" rx="1.5" fill="#00bfb0"/><rect x="192" y="25.65" width="8.7" height="8.7" rx="1.5" fill="#0e6a8b"/><rect x="204" y="25.65" width="8.7" height="8.7" rx="1.5" fill="#0e6a8b"/><rect x="216" y="25.65" width="8.7" height="8.7" rx="1.5" fill="#0e6a8b"/><rect x="228" y="25.65" width="8.7" height="8.7" rx="1.5" fill="#0e6a8b"/><rect x="240" y="25.65" width="8.7" height="8.7" rx="1.5" fill="#079ba1"/><rect x="252" y="25.65" width="8.7" height="8.7" rx="1.5" fill="#00bfb0"/><rect x="264" y="25.65" width="8.7" height="8.7" rx="1.5" fill="#00bfb0"/><rect x="276" y="25.65" width="8.7" height="8.7" rx="1.5" fill="#00bfb0"/><rect x="288" y="25.65" width="8.7" height="8.7" rx="1.5" fill="#00bfb0"/><rect x="300" y="25.65" width="8.7" height="8.7" rx="1.5" fill="#079ba1"/><rect x="312" y="25.65" width="8.7" height="8.7" rx="1.5" fill="#079ba1"/><rect x="324" y="25.65" width="8.7" height="8.7" rx="1.5" fill="#00bfb0"/><rect x="336" y="25.65" width="8.7" height="8.7" rx="1.5" fill="#0e6a8b"/><rect x="348" y="25.65" width="8.7" height="8.7" rx="1.5" fill="#079ba1"/><rect x="360" y="25.65" width="8.7" height="8.7" rx="1.5" fill="#079ba1"/><rect x="372" y="25.65" width="8.7" height="8.7" rx="1.5" fill="#079ba1"/><rect x="384" y="25.65" width="8.7" height="8.7" rx="1.5" fill="#0b7e97"/><rect x="396" y="25.65" width="8.7" height="8.7" rx="1.5" fill="#0e6a8b"/><rect x="408" y="25.65" width="8.7" height="8.7" rx="1.5" fill="#00bfb0"/><rect x="420" y="25.65" width="8.7" height="8.7" rx="1.5" fill="#079ba1"/><rect x="432" y="25.65" width="8.7" height="8.7" rx="1.5" fill="#079ba1"/><rect x="444" y="25.65" width="8.7" height="8.7" rx="1.5" fill="#079ba1"/><rect x="456" y="25.65" width="8.7" height="8.7" rx="1.5" fill="#00bfb0"/><rect x="468" y="25.65" width="8.7" height="8.7" rx="1.5" fill="#00bfb0"/><rect x="480" y="25.65" width="8.7" height="8.7" rx="1.5" fill="#00bfb0"/><rect x="492" y="25.65" width="8.7" height="8.7" rx="1.5" fill="#079ba1"/><rect x="504" y="25.65" width="8.7" height="8.7" rx="1.5" fill="#0e6a8b"/><rect x="516" y="25.65" width="8.7" height="8.7" rx="1.5" fill="#079ba1"/><rect x="528" y="25.65" width="8.7" height="8.7" rx="1.5" fill="#0b7e97"/><rect x="540" y="25.65" width="8.7" height="8.7" rx="1.5" fill="#0e6a8b"/><rect x="552" y="25.65" width="8.7" height="8.7" rx="1.5" fill="#00bfb0"/><rect x="564" y="25.65" width="8.7" height="8.7" rx="1.5" fill="#0e6a8b"/><rect x="576" y="25.65" width="8.7" height="8.7" rx="1.5" fill="#0b7e97"/><rect x="588" y="25.65" width="8.7" height="8.7" rx="1.5" fill="#0b7e97"/><rect x="600" y="25.65" width="8.7" height="8.7" rx="1.5" fill="#00bfb0"/><rect x="612" y="25.65" width="8.7" height="8.7" rx="1.5" fill="#00bfb0"/><rect x="624" y="25.65" width="8.7" height="8.7" rx="1.5" fill="#00bfb0"/><rect x="636" y="25.65" width="8.7" height="8.7" rx="1.5" fill="#079ba1"/><rect x="648" y="25.65" width="8.7" height="8.7" rx="1.5" fill="#00bfb0"/><rect x="0" y="37.20" width="680.4" height="9.6" fill="#135083"/><rect x="36" y="37.65" width="8.7" height="8.7" rx="1.5" fill="#079ba1"/><rect x="48" y="37.65" width="8.7" height="8.7" rx="1.5" fill="#079ba1"/><rect x="60" y="37.65" width="8.7" height="8.7" rx="1.5" fill="#00bfb0"/><rect x="72" y="37.65" width="8.7" height="8.7" rx="1.5" fill="#079ba1"/><rect x="84" y="37.65" width="8.7" height="8.7" rx="1.5" fill="#0e6a8b"/><rect x="96" y="37.65" width="8.7" height="8.7" rx="1.5" fill="#00bfb0"/><rect x="108" y="37.65" width="8.7" height="8.7" rx="1.5" fill="#079ba1"/><rect x="120" y="37.65" width="8.7" height="8.7" rx="1.5" fill="#0e6a8b"/><rect x="132" y="37.65" width="8.7" height="8.7" rx="1.5" fill="#00bfb0"/><rect x="144" y="37.65" width="8.7" height="8.7" rx="1.5" fill="#0b7e97"/><rect x="156" y="37.65" width="8.7" height="8.7" rx="1.5" fill="#0b7e97"/><rect x="168" y="37.65" width="8.7" height="8.7" rx="1.5" fill="#00bfb0"/><rect x="180" y="37.65" width="8.7" height="8.7" rx="1.5" fill="#0b7e97"/><rect x="192" y="37.65" width="8.7" height="8.7" rx="1.5" fill="#079ba1"/><rect x="204" y="37.65" width="8.7" height="8.7" rx="1.5" fill="#0e6a8b"/><rect x="216" y="37.65" width="8.7" height="8.7" rx="1.5" fill="#0e6a8b"/><rect x="228" y="37.65" width="8.7" height="8.7" rx="1.5" fill="#079ba1"/><rect x="240" y="37.65" width="8.7" height="8.7" rx="1.5" fill="#00bfb0"/><rect x="252" y="37.65" width="8.7" height="8.7" rx="1.5" fill="#0e6a8b"/><rect x="264" y="37.65" width="8.7" height="8.7" rx="1.5" fill="#00bfb0"/><rect x="276" y="37.65" width="8.7" height="8.7" rx="1.5" fill="#0e6a8b"/><rect x="288" y="37.65" width="8.7" height="8.7" rx="1.5" fill="#00bfb0"/><rect x="300" y="37.65" width="8.7" height="8.7" rx="1.5" fill="#079ba1"/><rect x="312" y="37.65" width="8.7" height="8.7" rx="1.5" fill="#079ba1"/><rect x="324" y="37.65" width="8.7" height="8.7" rx="1.5" fill="#0e6a8b"/><rect x="336" y="37.65" width="8.7" height="8.7" rx="1.5" fill="#079ba1"/><rect x="348" y="37.65" width="8.7" height="8.7" rx="1.5" fill="#00bfb0"/><rect x="360" y="37.65" width="8.7" height="8.7" rx="1.5" fill="#00bfb0"/><rect x="372" y="37.65" width="8.7" height="8.7" rx="1.5" fill="#00bfb0"/><rect x="384" y="37.65" width="8.7" height="8.7" rx="1.5" fill="#0b7e97"/><rect x="396" y="37.65" width="8.7" height="8.7" rx="1.5" fill="#00bfb0"/><rect x="408" y="37.65" width="8.7" height="8.7" rx="1.5" fill="#00bfb0"/><rect x="420" y="37.65" width="8.7" height="8.7" rx="1.5" fill="#079ba1"/><rect x="432" y="37.65" width="8.7" height="8.7" rx="1.5" fill="#00bfb0"/><rect x="444" y="37.65" width="8.7" height="8.7" rx="1.5" fill="#0b7e97"/><rect x="456" y="37.65" width="8.7" height="8.7" rx="1.5" fill="#00bfb0"/><rect x="468" y="37.65" width="8.7" height="8.7" rx="1.5" fill="#00bfb0"/><rect x="480" y="37.65" width="8.7" height="8.7" rx="1.5" fill="#00bfb0"/><rect x="492" y="37.65" width="8.7" height="8.7" rx="1.5" fill="#079ba1"/><rect x="504" y="37.65" width="8.7" height="8.7" rx="1.5" fill="#0b7e97"/><rect x="516" y="37.65" width="8.7" height="8.7" rx="1.5" fill="#0e6a8b"/><rect x="528" y="37.65" width="8.7" height="8.7" rx="1.5" fill="#0e6a8b"/><rect x="540" y="37.65" width="8.7" height="8.7" rx="1.5" fill="#0b7e97"/><rect x="552" y="37.65" width="8.7" height="8.7" rx="1.5" fill="#079ba1"/><rect x="564" y="37.65" width="8.7" height="8.7" rx="1.5" fill="#00bfb0"/><rect x="576" y="37.65" width="8.7" height="8.7" rx="1.5" fill="#00bfb0"/><rect x="588" y="37.65" width="8.7" height="8.7" rx="1.5" fill="#00bfb0"/><rect x="600" y="37.65" width="8.7" height="8.7" rx="1.5" fill="#00bfb0"/><rect x="612" y="37.65" width="8.7" height="8.7" rx="1.5" fill="#00bfb0"/><rect x="624" y="37.65" width="8.7" height="8.7" rx="1.5" fill="#00bfb0"/><rect x="636" y="37.65" width="8.7" height="8.7" rx="1.5" fill="#00bfb0"/><rect x="648" y="37.65" width="8.7" height="8.7" rx="1.5" fill="#0b7e97"/><rect x="239.6" y="37.25" width="9.5" height="9.5" rx="1.6" fill="#06b1a8" stroke="#d8f2f6" stroke-width="0.9"/><rect x="0" y="49.20" width="680.4" height="9.6" fill="#135083"/><rect x="24" y="49.65" width="8.7" height="8.7" rx="1.5" fill="#0e6a8b"/><rect x="36" y="49.65" width="8.7" height="8.7" rx="1.5" fill="#079ba1"/><rect x="48" y="49.65" width="8.7" height="8.7" rx="1.5" fill="#079ba1"/><rect x="60" y="49.65" width="8.7" height="8.7" rx="1.5" fill="#0e6a8b"/><rect x="72" y="49.65" width="8.7" height="8.7" rx="1.5" fill="#079ba1"/><rect x="84" y="49.65" width="8.7" height="8.7" rx="1.5" fill="#00bfb0"/><rect x="96" y="49.65" width="8.7" height="8.7" rx="1.5" fill="#0e6a8b"/><rect x="108" y="49.65" width="8.7" height="8.7" rx="1.5" fill="#0e6a8b"/><rect x="120" y="49.65" width="8.7" height="8.7" rx="1.5" fill="#00bfb0"/><rect x="132" y="49.65" width="8.7" height="8.7" rx="1.5" fill="#00bfb0"/><rect x="144" y="49.65" width="8.7" height="8.7" rx="1.5" fill="#0b7e97"/><rect x="156" y="49.65" width="8.7" height="8.7" rx="1.5" fill="#00bfb0"/><rect x="168" y="49.65" width="8.7" height="8.7" rx="1.5" fill="#079ba1"/><rect x="180" y="49.65" width="8.7" height="8.7" rx="1.5" fill="#0b7e97"/><rect x="192" y="49.65" width="8.7" height="8.7" rx="1.5" fill="#0b7e97"/><rect x="204" y="49.65" width="8.7" height="8.7" rx="1.5" fill="#079ba1"/><rect x="216" y="49.65" width="8.7" height="8.7" rx="1.5" fill="#079ba1"/><rect x="228" y="49.65" width="8.7" height="8.7" rx="1.5" fill="#0e6a8b"/><rect x="240" y="49.65" width="8.7" height="8.7" rx="1.5" fill="#0e6a8b"/><rect x="252" y="49.65" width="8.7" height="8.7" rx="1.5" fill="#00bfb0"/><rect x="264" y="49.65" width="8.7" height="8.7" rx="1.5" fill="#0e6a8b"/><rect x="276" y="49.65" width="8.7" height="8.7" rx="1.5" fill="#00bfb0"/><rect x="288" y="49.65" width="8.7" height="8.7" rx="1.5" fill="#00bfb0"/><rect x="300" y="49.65" width="8.7" height="8.7" rx="1.5" fill="#00bfb0"/><rect x="312" y="49.65" width="8.7" height="8.7" rx="1.5" fill="#0e6a8b"/><rect x="324" y="49.65" width="8.7" height="8.7" rx="1.5" fill="#0b7e97"/><rect x="336" y="49.65" width="8.7" height="8.7" rx="1.5" fill="#079ba1"/><rect x="348" y="49.65" width="8.7" height="8.7" rx="1.5" fill="#0e6a8b"/><rect x="360" y="49.65" width="8.7" height="8.7" rx="1.5" fill="#0e6a8b"/><rect x="372" y="49.65" width="8.7" height="8.7" rx="1.5" fill="#00bfb0"/><rect x="384" y="49.65" width="8.7" height="8.7" rx="1.5" fill="#0e6a8b"/><rect x="396" y="49.65" width="8.7" height="8.7" rx="1.5" fill="#079ba1"/><rect x="408" y="49.65" width="8.7" height="8.7" rx="1.5" fill="#00bfb0"/><rect x="420" y="49.65" width="8.7" height="8.7" rx="1.5" fill="#079ba1"/><rect x="432" y="49.65" width="8.7" height="8.7" rx="1.5" fill="#00bfb0"/><rect x="444" y="49.65" width="8.7" height="8.7" rx="1.5" fill="#0b7e97"/><rect x="456" y="49.65" width="8.7" height="8.7" rx="1.5" fill="#079ba1"/><rect x="468" y="49.65" width="8.7" height="8.7" rx="1.5" fill="#079ba1"/><rect x="480" y="49.65" width="8.7" height="8.7" rx="1.5" fill="#0e6a8b"/><rect x="492" y="49.65" width="8.7" height="8.7" rx="1.5" fill="#079ba1"/><rect x="504" y="49.65" width="8.7" height="8.7" rx="1.5" fill="#0b7e97"/><rect x="516" y="49.65" width="8.7" height="8.7" rx="1.5" fill="#0e6a8b"/><rect x="528" y="49.65" width="8.7" height="8.7" rx="1.5" fill="#0e6a8b"/><rect x="540" y="49.65" width="8.7" height="8.7" rx="1.5" fill="#0b7e97"/><rect x="552" y="49.65" width="8.7" height="8.7" rx="1.5" fill="#079ba1"/><rect x="564" y="49.65" width="8.7" height="8.7" rx="1.5" fill="#0e6a8b"/><rect x="576" y="49.65" width="8.7" height="8.7" rx="1.5" fill="#079ba1"/><rect x="588" y="49.65" width="8.7" height="8.7" rx="1.5" fill="#079ba1"/><rect x="600" y="49.65" width="8.7" height="8.7" rx="1.5" fill="#00bfb0"/><rect x="612" y="49.65" width="8.7" height="8.7" rx="1.5" fill="#079ba1"/><rect x="624" y="49.65" width="8.7" height="8.7" rx="1.5" fill="#00bfb0"/><rect x="636" y="49.65" width="8.7" height="8.7" rx="1.5" fill="#00bfb0"/><rect x="648" y="49.65" width="8.7" height="8.7" rx="1.5" fill="#00bfb0"/><rect x="0" y="61.20" width="680.4" height="9.6" fill="#135083"/><rect x="24" y="61.65" width="8.7" height="8.7" rx="1.5" fill="#0e6a8b"/><rect x="36" y="61.65" width="8.7" height="8.7" rx="1.5" fill="#079ba1"/><rect x="48" y="61.65" width="8.7" height="8.7" rx="1.5" fill="#0e6a8b"/><rect x="60" y="61.65" width="8.7" height="8.7" rx="1.5" fill="#0e6a8b"/><rect x="72" y="61.65" width="8.7" height="8.7" rx="1.5" fill="#079ba1"/><rect x="84" y="61.65" width="8.7" height="8.7" rx="1.5" fill="#0b7e97"/><rect x="96" y="61.65" width="8.7" height="8.7" rx="1.5" fill="#0b7e97"/><rect x="108" y="61.65" width="8.7" height="8.7" rx="1.5" fill="#0b7e97"/><rect x="120" y="61.65" width="8.7" height="8.7" rx="1.5" fill="#0b7e97"/><rect x="132" y="61.65" width="8.7" height="8.7" rx="1.5" fill="#0b7e97"/><rect x="144" y="61.65" width="8.7" height="8.7" rx="1.5" fill="#0b7e97"/><rect x="156" y="61.65" width="8.7" height="8.7" rx="1.5" fill="#0b7e97"/><rect x="168" y="61.65" width="8.7" height="8.7" rx="1.5" fill="#079ba1"/><rect x="180" y="61.65" width="8.7" height="8.7" rx="1.5" fill="#00bfb0"/><rect x="192" y="61.65" width="8.7" height="8.7" rx="1.5" fill="#0e6a8b"/><rect x="204" y="61.65" width="8.7" height="8.7" rx="1.5" fill="#0e6a8b"/><rect x="216" y="61.65" width="8.7" height="8.7" rx="1.5" fill="#00bfb0"/><rect x="228" y="61.65" width="8.7" height="8.7" rx="1.5" fill="#0e6a8b"/><rect x="240" y="61.65" width="8.7" height="8.7" rx="1.5" fill="#0e6a8b"/><rect x="252" y="61.65" width="8.7" height="8.7" rx="1.5" fill="#00bfb0"/><rect x="264" y="61.65" width="8.7" height="8.7" rx="1.5" fill="#0e6a8b"/><rect x="276" y="61.65" width="8.7" height="8.7" rx="1.5" fill="#0e6a8b"/><rect x="288" y="61.65" width="8.7" height="8.7" rx="1.5" fill="#0e6a8b"/><rect x="300" y="61.65" width="8.7" height="8.7" rx="1.5" fill="#00bfb0"/><rect x="312" y="61.65" width="8.7" height="8.7" rx="1.5" fill="#0e6a8b"/><rect x="324" y="61.65" width="8.7" height="8.7" rx="1.5" fill="#0e6a8b"/><rect x="336" y="61.65" width="8.7" height="8.7" rx="1.5" fill="#0b7e97"/><rect x="348" y="61.65" width="8.7" height="8.7" rx="1.5" fill="#0b7e97"/><rect x="360" y="61.65" width="8.7" height="8.7" rx="1.5" fill="#00bfb0"/><rect x="372" y="61.65" width="8.7" height="8.7" rx="1.5" fill="#0e6a8b"/><rect x="384" y="61.65" width="8.7" height="8.7" rx="1.5" fill="#079ba1"/><rect x="396" y="61.65" width="8.7" height="8.7" rx="1.5" fill="#0e6a8b"/><rect x="408" y="61.65" width="8.7" height="8.7" rx="1.5" fill="#079ba1"/><rect x="420" y="61.65" width="8.7" height="8.7" rx="1.5" fill="#0e6a8b"/><rect x="432" y="61.65" width="8.7" height="8.7" rx="1.5" fill="#0e6a8b"/><rect x="444" y="61.65" width="8.7" height="8.7" rx="1.5" fill="#00bfb0"/><rect x="456" y="61.65" width="8.7" height="8.7" rx="1.5" fill="#079ba1"/><rect x="468" y="61.65" width="8.7" height="8.7" rx="1.5" fill="#079ba1"/><rect x="480" y="61.65" width="8.7" height="8.7" rx="1.5" fill="#0e6a8b"/><rect x="492" y="61.65" width="8.7" height="8.7" rx="1.5" fill="#079ba1"/><rect x="504" y="61.65" width="8.7" height="8.7" rx="1.5" fill="#00bfb0"/><rect x="516" y="61.65" width="8.7" height="8.7" rx="1.5" fill="#00bfb0"/><rect x="528" y="61.65" width="8.7" height="8.7" rx="1.5" fill="#00bfb0"/><rect x="540" y="61.65" width="8.7" height="8.7" rx="1.5" fill="#0e6a8b"/><rect x="552" y="61.65" width="8.7" height="8.7" rx="1.5" fill="#00bfb0"/><rect x="564" y="61.65" width="8.7" height="8.7" rx="1.5" fill="#00bfb0"/><rect x="576" y="61.65" width="8.7" height="8.7" rx="1.5" fill="#079ba1"/><rect x="588" y="61.65" width="8.7" height="8.7" rx="1.5" fill="#079ba1"/><rect x="600" y="61.65" width="8.7" height="8.7" rx="1.5" fill="#00bfb0"/><rect x="612" y="61.65" width="8.7" height="8.7" rx="1.5" fill="#079ba1"/><rect x="624" y="61.65" width="8.7" height="8.7" rx="1.5" fill="#00bfb0"/><rect x="636" y="61.65" width="8.7" height="8.7" rx="1.5" fill="#00bfb0"/><rect x="648" y="61.65" width="8.7" height="8.7" rx="1.5" fill="#0e6a8b"/><rect x="0" y="73.20" width="680.4" height="9.6" fill="#135083"/><rect x="24.5" y="74.15" width="7.7" height="7.7" rx="1" fill="#154f87" stroke="#107094" stroke-width="1"/><rect x="36" y="73.65" width="8.7" height="8.7" rx="1.5" fill="#0e6a8b"/><rect x="48" y="73.65" width="8.7" height="8.7" rx="1.5" fill="#0e6a8b"/><rect x="60.5" y="74.15" width="7.7" height="7.7" rx="1" fill="#154f87" stroke="#107094" stroke-width="1"/><rect x="72.5" y="74.15" width="7.7" height="7.7" rx="1" fill="#154f87" stroke="#107094" stroke-width="1"/><rect x="84.5" y="74.15" width="7.7" height="7.7" rx="1" fill="#154f87" stroke="#107094" stroke-width="1"/><rect x="96.5" y="74.15" width="7.7" height="7.7" rx="1" fill="#154f87" stroke="#107094" stroke-width="1"/><rect x="108.5" y="74.15" width="7.7" height="7.7" rx="1" fill="#154f87" stroke="#107094" stroke-width="1"/><rect x="120" y="73.65" width="8.7" height="8.7" rx="1.5" fill="#0e6a8b"/><rect x="132" y="73.65" width="8.7" height="8.7" rx="1.5" fill="#0e6a8b"/><rect x="144.5" y="74.15" width="7.7" height="7.7" rx="1" fill="#154f87" stroke="#107094" stroke-width="1"/><rect x="156.5" y="74.15" width="7.7" height="7.7" rx="1" fill="#154f87" stroke="#107094" stroke-width="1"/><rect x="168.5" y="74.15" width="7.7" height="7.7" rx="1" fill="#154f87" stroke="#107094" stroke-width="1"/><rect x="180.5" y="74.15" width="7.7" height="7.7" rx="1" fill="#154f87" stroke="#107094" stroke-width="1"/><rect x="192.5" y="74.15" width="7.7" height="7.7" rx="1" fill="#154f87" stroke="#107094" stroke-width="1"/><rect x="204.5" y="74.15" width="7.7" height="7.7" rx="1" fill="#154f87" stroke="#107094" stroke-width="1"/><rect x="216" y="73.65" width="8.7" height="8.7" rx="1.5" fill="#0e6a8b"/><rect x="228" y="73.65" width="8.7" height="8.7" rx="1.5" fill="#0e6a8b"/><rect x="240" y="73.65" width="8.7" height="8.7" rx="1.5" fill="#0e6a8b"/><rect x="252.5" y="74.15" width="7.7" height="7.7" rx="1" fill="#154f87" stroke="#107094" stroke-width="1"/><rect x="264.5" y="74.15" width="7.7" height="7.7" rx="1" fill="#154f87" stroke="#107094" stroke-width="1"/><rect x="276.5" y="74.15" width="7.7" height="7.7" rx="1" fill="#154f87" stroke="#107094" stroke-width="1"/><rect x="288.5" y="74.15" width="7.7" height="7.7" rx="1" fill="#154f87" stroke="#107094" stroke-width="1"/><rect x="300" y="73.65" width="8.7" height="8.7" rx="1.5" fill="#0e6a8b"/><rect x="312.5" y="74.15" width="7.7" height="7.7" rx="1" fill="#154f87" stroke="#107094" stroke-width="1"/><rect x="324" y="73.65" width="8.7" height="8.7" rx="1.5" fill="#0e6a8b"/><rect x="336.5" y="74.15" width="7.7" height="7.7" rx="1" fill="#154f87" stroke="#107094" stroke-width="1"/><rect x="348.5" y="74.15" width="7.7" height="7.7" rx="1" fill="#154f87" stroke="#107094" stroke-width="1"/><rect x="360.5" y="74.15" width="7.7" height="7.7" rx="1" fill="#154f87" stroke="#107094" stroke-width="1"/><rect x="372" y="73.65" width="8.7" height="8.7" rx="1.5" fill="#0e6a8b"/><rect x="384.5" y="74.15" width="7.7" height="7.7" rx="1" fill="#154f87" stroke="#107094" stroke-width="1"/><rect x="396" y="73.65" width="8.7" height="8.7" rx="1.5" fill="#0e6a8b"/><rect x="408.5" y="74.15" width="7.7" height="7.7" rx="1" fill="#154f87" stroke="#107094" stroke-width="1"/><rect x="420" y="73.65" width="8.7" height="8.7" rx="1.5" fill="#0e6a8b"/><rect x="432.5" y="74.15" width="7.7" height="7.7" rx="1" fill="#154f87" stroke="#107094" stroke-width="1"/><rect x="444" y="73.65" width="8.7" height="8.7" rx="1.5" fill="#0e6a8b"/><rect x="456" y="73.65" width="8.7" height="8.7" rx="1.5" fill="#0e6a8b"/><rect x="468.5" y="74.15" width="7.7" height="7.7" rx="1" fill="#154f87" stroke="#107094" stroke-width="1"/><rect x="480" y="73.65" width="8.7" height="8.7" rx="1.5" fill="#0e6a8b"/><rect x="492" y="73.65" width="8.7" height="8.7" rx="1.5" fill="#0e6a8b"/><rect x="504.5" y="74.15" width="7.7" height="7.7" rx="1" fill="#154f87" stroke="#107094" stroke-width="1"/><rect x="516" y="73.65" width="8.7" height="8.7" rx="1.5" fill="#0e6a8b"/><rect x="528" y="73.65" width="8.7" height="8.7" rx="1.5" fill="#0e6a8b"/><rect x="540.5" y="74.15" width="7.7" height="7.7" rx="1" fill="#154f87" stroke="#107094" stroke-width="1"/><rect x="552.5" y="74.15" width="7.7" height="7.7" rx="1" fill="#154f87" stroke="#107094" stroke-width="1"/><rect x="564.5" y="74.15" width="7.7" height="7.7" rx="1" fill="#154f87" stroke="#107094" stroke-width="1"/><rect x="576.5" y="74.15" width="7.7" height="7.7" rx="1" fill="#154f87" stroke="#107094" stroke-width="1"/><rect x="588" y="73.65" width="8.7" height="8.7" rx="1.5" fill="#0e6a8b"/><rect x="600" y="73.65" width="8.7" height="8.7" rx="1.5" fill="#0e6a8b"/><rect x="612" y="73.65" width="8.7" height="8.7" rx="1.5" fill="#0e6a8b"/><rect x="624" y="73.65" width="8.7" height="8.7" rx="1.5" fill="#0e6a8b"/><rect x="636.5" y="74.15" width="7.7" height="7.7" rx="1" fill="#154f87" stroke="#107094" stroke-width="1"/><rect x="648.5" y="74.15" width="7.7" height="7.7" rx="1" fill="#154f87" stroke="#107094" stroke-width="1"/></svg></svg>
<span class="t" style="left:263px;top:158px;font-size:9.1px;line-height:10px;color:#a9cbe8;transform-origin:0 8px;transform:translate(0.90px,0.30px) rotate(0.03deg) scaleX(0.9202);">Sun</span>
<span class="t" style="left:929px;top:158px;font-size:9.1px;line-height:10px;color:#a9cbe8;transform-origin:0 8px;transform:translate(0.10px,0.30px) rotate(0.03deg) scaleX(0.9202);">Sun</span>
<span class="t" style="left:263px;top:170px;font-size:9.1px;line-height:10px;color:#a9cbe8;transform-origin:0 8px;transform:translate(0.90px,0.30px) rotate(0.03deg) scaleX(0.9999);">Mon</span>
<span class="t" style="left:926px;top:170px;font-size:9.1px;line-height:10px;color:#a9cbe8;transform-origin:0 8px;transform:translate(0.30px,0.30px) rotate(0.03deg) scaleX(0.9999);">Mon</span>
<span class="t" style="left:263px;top:182px;font-size:9.1px;line-height:10px;color:#a9cbe8;transform-origin:0 8px;transform:translate(0.90px,0.30px) rotate(0.03deg) scaleX(0.9516);">Tue</span>
<span class="t" style="left:929px;top:182px;font-size:9.1px;line-height:10px;color:#a9cbe8;transform-origin:0 8px;transform:translate(0.40px,0.30px) rotate(0.03deg) scaleX(0.9516);">Tue</span>
<span class="t" style="left:263px;top:194px;font-size:9.1px;line-height:10px;color:#ffffff;transform-origin:0 8px;-webkit-text-stroke:0.3px currentColor;transform:translate(0.90px,0.30px) rotate(0.03deg) scaleX(0.9490);">Wed</span>
<span class="t" style="left:926px;top:194px;font-size:9.1px;line-height:10px;color:#ffffff;transform-origin:0 8px;-webkit-text-stroke:0.3px currentColor;transform:translate(0.40px,0.30px) rotate(0.03deg) scaleX(0.9490);">Wed</span>
<span class="t" style="left:263px;top:206px;font-size:9.1px;line-height:10px;color:#a9cbe8;transform-origin:0 8px;transform:translate(0.90px,0.30px) rotate(0.03deg) scaleX(0.9693);">Thu</span>
<span class="t" style="left:928px;top:206px;font-size:9.1px;line-height:10px;color:#a9cbe8;transform-origin:0 8px;transform:translate(0.80px,0.30px) rotate(0.03deg) scaleX(0.9693);">Thu</span>
<span class="t" style="left:263px;top:218px;font-size:9.1px;line-height:10px;color:#a9cbe8;transform-origin:0 8px;transform:translate(0.90px,0.30px) rotate(0.03deg) scaleX(0.9990);">Fri</span>
<span class="t" style="left:933px;top:218px;font-size:9.1px;line-height:10px;color:#a9cbe8;transform-origin:0 8px;transform:translate(0.40px,0.30px) rotate(0.03deg) scaleX(0.9990);">Fri</span>
<span class="t" style="left:263px;top:230px;font-size:9.1px;line-height:10px;color:#a9cbe8;transform-origin:0 8px;transform:translate(0.90px,0.30px) rotate(0.03deg) scaleX(0.9664);">Sat</span>
<span class="t" style="left:930px;top:230px;font-size:9.1px;line-height:10px;color:#a9cbe8;transform-origin:0 8px;transform:translate(0.80px,0.30px) rotate(0.03deg) scaleX(0.9664);">Sat</span>
<svg class="r" style="left:0;top:0" width="1024" height="576" viewBox="0 0 1024 576"><rect x="223.30" y="260.20" width="785.90" height="158.80" fill="#074876"/><circle cx="242.85" cy="278.10" r="13.30" fill="none" stroke="#08bbac" stroke-width="1.1"/></svg>
<span class="t" style="left:238px;top:272px;font-size:11px;line-height:12px;color:#08bbac;transform-origin:0 10px;font-weight:700;transform:translate(0.93px,0.20px) rotate(0.03deg) scaleX(1.0000);">C</span>
<svg class="r" style="left:0;top:0" width="1024" height="576" viewBox="0 0 1024 576"><circle cx="252.60" cy="288.00" r="3.85" fill="#08bbac"/></svg>
<span class="t" style="left:264px;top:267px;font-size:10.4px;line-height:11px;color:#c3daf0;transform-origin:0 9px;-webkit-text-stroke:0.3px currentColor;transform:translate(0.20px,0.70px) rotate(0.03deg) scaleX(0.9704);">Cooper</span>
<span class="t" style="left:264px;top:279px;font-size:10.1px;line-height:11px;color:#7ba5cc;transform-origin:0 9px;transform:translate(0.20px,0.80px) rotate(0.03deg) scaleX(0.9621);">Cooper@company.com</span>
<span class="t" style="left:403px;top:271px;font-size:10.6px;line-height:12px;color:#08bbac;transform-origin:0 10px;-webkit-text-stroke:0.3px currentColor;transform:translate(0.70px,0.80px) rotate(0.03deg) scaleX(0.9562);">Online</span>
<span class="t" style="left:677px;top:271px;font-size:10.6px;line-height:12px;color:#c5dcf2;transform-origin:0 10px;transform:translate(0.80px,0.80px) rotate(0.03deg) scaleX(1.0060);">116</span>
<svg class="r" style="left:0;top:0" width="1024" height="576" viewBox="0 0 1024 576"><rect x="501.00" y="271.50" width="13.30" height="13.30" fill="#00bfb0" rx="1.5"/><rect x="518.90" y="271.50" width="13.30" height="13.30" fill="#00bfb0" rx="1.5"/><rect x="536.80" y="271.50" width="13.30" height="13.30" fill="#079ba1" rx="1.5"/><rect x="554.70" y="271.50" width="13.30" height="13.30" fill="#0e6a8b" rx="1.5"/><rect x="572.60" y="271.50" width="13.30" height="13.30" fill="#0b7e97" rx="1.5"/><rect x="591.00" y="272.00" width="12.30" height="12.30" fill="none" rx="1.2" stroke="#0f5f8a" stroke-width="1"/><rect x="608.90" y="272.00" width="12.30" height="12.30" fill="none" rx="1.2" stroke="#0f5f8a" stroke-width="1"/><svg x="744.30" y="265.20" width="13.9" height="13.4" viewBox="0 0 13.9 13.4" fill="#68a7d2"><path d="M0 2.1L5.9 1.2V6.4H0Z"/><path d="M6.6 1.1L13.9 0V6.4H6.6Z"/><path d="M0 7H5.9V12.2L0 11.3Z"/><path d="M6.6 7H13.9V13.4L6.6 12.3Z"/></svg></svg>
<span class="t" style="left:737px;top:281px;font-size:7.2px;line-height:9px;color:#a9cdea;transform-origin:0 7px;font-weight:700;transform:translate(0.65px,0.30px) rotate(0.03deg) scaleX(0.9910);">Win7 32</span>
<svg class="r" style="left:0;top:0" width="1024" height="576" viewBox="0 0 1024 576"><svg x="789.30" y="265.20" width="13.9" height="13.4" viewBox="0 0 13.9 13.4" fill="#68a7d2"><path d="M0 2.1L5.9 1.2V6.4H0Z"/><path d="M6.6 1.1L13.9 0V6.4H6.6Z"/><path d="M0 7H5.9V12.2L0 11.3Z"/><path d="M6.6 7H13.9V13.4L6.6 12.3Z"/></svg></svg>
<span class="t" style="left:782px;top:281px;font-size:7.2px;line-height:9px;color:#a9cdea;transform-origin:0 7px;font-weight:700;transform:translate(0.65px,0.30px) rotate(0.03deg) scaleX(0.9910);">Win7 32</span>
<span class="t" style="left:288px;top:305px;font-size:9px;line-height:10px;color:#a9cbe8;transform-origin:0 8px;transform:translate(0.00px,0.20px) rotate(0.03deg) scaleX(1.0000);">Jan</span>
<span class="t" style="left:348px;top:305px;font-size:9px;line-height:10px;color:#a9cbe8;transform-origin:0 8px;transform:translate(0.00px,0.20px) rotate(0.03deg) scaleX(1.0000);">Feb</span>
<span class="t" style="left:396px;top:305px;font-size:9px;line-height:10px;color:#a9cbe8;transform-origin:0 8px;transform:translate(0.00px,0.20px) rotate(0.03deg) scaleX(1.0000);">Mar</span>
<span class="t" style="left:444px;top:305px;font-size:9px;line-height:10px;color:#a9cbe8;transform-origin:0 8px;transform:translate(0.00px,0.20px) rotate(0.03deg) scaleX(1.0000);">Apr</span>
<span class="t" style="left:492px;top:305px;font-size:9px;line-height:10px;color:#a9cbe8;transform-origin:0 8px;transform:translate(0.00px,0.20px) rotate(0.03deg) scaleX(1.0000);">May</span>
<span class="t" style="left:552px;top:305px;font-size:9px;line-height:10px;color:#a9cbe8;transform-origin:0 8px;transform:translate(0.00px,0.20px) rotate(0.03deg) scaleX(1.0000);">Jun</span>
<span class="t" style="left:600px;top:305px;font-size:9px;line-height:10px;color:#a9cbe8;transform-origin:0 8px;transform:translate(0.00px,0.20px) rotate(0.03deg) scaleX(1.0000);">Jul</span>
<span class="t" style="left:648px;top:305px;font-size:9px;line-height:10px;color:#a9cbe8;transform-origin:0 8px;transform:translate(0.00px,0.20px) rotate(0.03deg) scaleX(1.0000);">Aug</span>
<span class="t" style="left:708px;top:305px;font-size:9px;line-height:10px;color:#a9cbe8;transform-origin:0 8px;transform:translate(0.00px,0.20px) rotate(0.03deg) scaleX(1.0000);">Sep</span>
<span class="t" style="left:756px;top:305px;font-size:9px;line-height:10px;color:#a9cbe8;transform-origin:0 8px;transform:translate(0.00px,0.20px) rotate(0.03deg) scaleX(1.0000);">Oct</span>
<span class="t" style="left:816px;top:305px;font-size:9px;line-height:10px;color:#a9cbe8;transform-origin:0 8px;transform:translate(0.00px,0.20px) rotate(0.03deg) scaleX(1.0000);">Nov</span>
<span class="t" style="left:864px;top:305px;font-size:9px;line-height:10px;color:#a9cbe8;transform-origin:0 8px;transform:translate(0.00px,0.20px) rotate(0.03deg) scaleX(1.0000);">Dec</span>
<svg class="r" style="left:0;top:0" width="1024" height="576" viewBox="0 0 1024 576"><svg x="264" y="320.35" width="681" height="86" viewBox="0 0 681 86"><rect x="0" y="1.20" width="680.4" height="9.6" fill="#135083"/><rect x="36.5" y="2.15" width="7.7" height="7.7" rx="1" fill="#154f87" stroke="#107094" stroke-width="1"/><rect x="48" y="1.65" width="8.7" height="8.7" rx="1.5" fill="#0e6a8b"/><rect x="60.5" y="2.15" width="7.7" height="7.7" rx="1" fill="#154f87" stroke="#107094" stroke-width="1"/><rect x="72.5" y="2.15" width="7.7" height="7.7" rx="1" fill="#154f87" stroke="#107094" stroke-width="1"/><rect x="84" y="1.65" width="8.7" height="8.7" rx="1.5" fill="#0e6a8b"/><rect x="96" y="1.65" width="8.7" height="8.7" rx="1.5" fill="#0e6a8b"/><rect x="108" y="1.65" width="8.7" height="8.7" rx="1.5" fill="#0e6a8b"/><rect x="120.5" y="2.15" width="7.7" height="7.7" rx="1" fill="#154f87" stroke="#107094" stroke-width="1"/><rect x="132.5" y="2.15" width="7.7" height="7.7" rx="1" fill="#154f87" stroke="#107094" stroke-width="1"/><rect x="144.5" y="2.15" width="7.7" height="7.7" rx="1" fill="#154f87" stroke="#107094" stroke-width="1"/><rect x="156.5" y="2.15" width="7.7" height="7.7" rx="1" fill="#154f87" stroke="#107094" stroke-width="1"/><rect x="168.5" y="2.15" width="7.7" height="7.7" rx="1" fill="#154f87" stroke="#107094" stroke-width="1"/><rect x="180.5" y="2.15" width="7.7" height="7.7" rx="1" fill="#154f87" stroke="#107094" stroke-width="1"/><rect x="192.5" y="2.15" width="7.7" height="7.7" rx="1" fill="#154f87" stroke="#107094" stroke-width="1"/><rect x="204.5" y="2.15" width="7.7" height="7.7" rx="1" fill="#154f87" stroke="#107094" stroke-width="1"/><rect x="216.5" y="2.15" width="7.7" height="7.7" rx="1" fill="#154f87" stroke="#107094" stroke-width="1"/><rect x="228" y="1.65" width="8.7" height="8.7" rx="1.5" fill="#0e6a8b"/><rect x="240.5" y="2.15" width="7.7" height="7.7" rx="1" fill="#154f87" stroke="#107094" stroke-width="1"/><rect x="252.5" y="2.15" width="7.7" height="7.7" rx="1" fill="#154f87" stroke="#107094" stroke-width="1"/><rect x="264" y="1.65" width="8.7" height="8.7" rx="1.5" fill="#0e6a8b"/><rect x="276" y="1.65" width="8.7" height="8.7" rx="1.5" fill="#0e6a8b"/><rect x="288.5" y="2.15" width="7.7" height="7.7" rx="1" fill="#154f87" stroke="#107094" stroke-width="1"/><rect x="300.5" y="2.15" width="7.7" height="7.7" rx="1" fill="#154f87" stroke="#107094" stroke-width="1"/><rect x="312.5" y="2.15" width="7.7" height="7.7" rx="1" fill="#154f87" stroke="#107094" stroke-width="1"/><rect x="324" y="1.65" width="8.7" height="8.7" rx="1.5" fill="#0e6a8b"/><rect x="336" y="1.65" width="8.7" height="8.7" rx="1.5" fill="#0e6a8b"/><rect x="348.5" y="2.15" width="7.7" height="7.7" rx="1" fill="#154f87" stroke="#107094" stroke-width="1"/><rect x="360.5" y="2.15" width="7.7" height="7.7" rx="1" fill="#154f87" stroke="#107094" stroke-width="1"/><rect x="372.5" y="2.15" width="7.7" height="7.7" rx="1" fill="#154f87" stroke="#107094" stroke-width="1"/><rect x="384" y="1.65" width="8.7" height="8.7" rx="1.5" fill="#0e6a8b"/><rect x="396.5" y="2.15" width="7.7" height="7.7" rx="1" fill="#154f87" stroke="#107094" stroke-width="1"/><rect x="408.5" y="2.15" width="7.7" height="7.7" rx="1" fill="#154f87" stroke="#107094" stroke-width="1"/><rect x="420.5" y="2.15" width="7.7" height="7.7" rx="1" fill="#154f87" stroke="#107094" stroke-width="1"/><rect x="432" y="1.65" width="8.7" height="8.7" rx="1.5" fill="#0e6a8b"/><rect x="444.5" y="2.15" width="7.7" height="7.7" rx="1" fill="#154f87" stroke="#107094" stroke-width="1"/><rect x="456.5" y="2.15" width="7.7" height="7.7" rx="1" fill="#154f87" stroke="#107094" stroke-width="1"/><rect x="468" y="1.65" width="8.7" height="8.7" rx="1.5" fill="#0e6a8b"/><rect x="480.5" y="2.15" width="7.7" height="7.7" rx="1" fill="#154f87" stroke="#107094" stroke-width="1"/><rect x="492" y="1.65" width="8.7" height="8.7" rx="1.5" fill="#0e6a8b"/><rect x="504.5" y="2.15" width="7.7" height="7.7" rx="1" fill="#154f87" stroke="#107094" stroke-width="1"/><rect x="516" y="1.65" width="8.7" height="8.7" rx="1.5" fill="#0e6a8b"/><rect x="528" y="1.65" width="8.7" height="8.7" rx="1.5" fill="#0e6a8b"/><rect x="540" y="1.65" width="8.7" height="8.7" rx="1.5" fill="#0e6a8b"/><rect x="552.5" y="2.15" width="7.7" height="7.7" rx="1" fill="#154f87" stroke="#107094" stroke-width="1"/><rect x="564.5" y="2.15" width="7.7" height="7.7" rx="1" fill="#154f87" stroke="#107094" stroke-width="1"/><rect x="576.5" y="2.15" width="7.7" height="7.7" rx="1" fill="#154f87" stroke="#107094" stroke-width="1"/><rect x="588.5" y="2.15" width="7.7" height="7.7" rx="1" fill="#154f87" stroke="#107094" stroke-width="1"/><rect x="600.5" y="2.15" width="7.7" height="7.7" rx="1" fill="#154f87" stroke="#107094" stroke-width="1"/><rect x="612" y="1.65" width="8.7" height="8.7" rx="1.5" fill="#0e6a8b"/><rect x="624" y="1.65" width="8.7" height="8.7" rx="1.5" fill="#0e6a8b"/><rect x="636.5" y="2.15" width="7.7" height="7.7" rx="1" fill="#154f87" stroke="#107094" stroke-width="1"/><rect x="648.5" y="2.15" width="7.7" height="7.7" rx="1" fill="#154f87" stroke="#107094" stroke-width="1"/><rect x="0" y="13.20" width="680.4" height="9.6" fill="#135083"/><rect x="36" y="13.65" width="8.7" height="8.7" rx="1.5" fill="#0e6a8b"/><rect x="48" y="13.65" width="8.7" height="8.7" rx="1.5" fill="#0e6a8b"/><rect x="60" y="13.65" width="8.7" height="8.7" rx="1.5" fill="#0b7e97"/><rect x="72" y="13.65" width="8.7" height="8.7" rx="1.5" fill="#0e6a8b"/><rect x="84" y="13.65" width="8.7" height="8.7" rx="1.5" fill="#0b7e97"/><rect x="96" y="13.65" width="8.7" height="8.7" rx="1.5" fill="#0b7e97"/><rect x="108" y="13.65" width="8.7" height="8.7" rx="1.5" fill="#0b7e97"/><rect x="120" y="13.65" width="8.7" height="8.7" rx="1.5" fill="#0e6a8b"/><rect x="132" y="13.65" width="8.7" height="8.7" rx="1.5" fill="#0e6a8b"/><rect x="144" y="13.65" width="8.7" height="8.7" rx="1.5" fill="#0e6a8b"/><rect x="156" y="13.65" width="8.7" height="8.7" rx="1.5" fill="#079ba1"/><rect x="168" y="13.65" width="8.7" height="8.7" rx="1.5" fill="#079ba1"/><rect x="180" y="13.65" width="8.7" height="8.7" rx="1.5" fill="#079ba1"/><rect x="192" y="13.65" width="8.7" height="8.7" rx="1.5" fill="#0e6a8b"/><rect x="204" y="13.65" width="8.7" height="8.7" rx="1.5" fill="#0e6a8b"/><rect x="216" y="13.65" width="8.7" height="8.7" rx="1.5" fill="#00bfb0"/><rect x="228" y="13.65" width="8.7" height="8.7" rx="1.5" fill="#0e6a8b"/><rect x="240" y="13.65" width="8.7" height="8.7" rx="1.5" fill="#079ba1"/><rect x="252" y="13.65" width="8.7" height="8.7" rx="1.5" fill="#0e6a8b"/><rect x="264" y="13.65" width="8.7" height="8.7" rx="1.5" fill="#0e6a8b"/><rect x="276" y="13.65" width="8.7" height="8.7" rx="1.5" fill="#00bfb0"/><rect x="288" y="13.65" width="8.7" height="8.7" rx="1.5" fill="#00bfb0"/><rect x="300" y="13.65" width="8.7" height="8.7" rx="1.5" fill="#079ba1"/><rect x="312" y="13.65" width="8.7" height="8.7" rx="1.5" fill="#079ba1"/><rect x="324" y="13.65" width="8.7" height="8.7" rx="1.5" fill="#00bfb0"/><rect x="336" y="13.65" width="8.7" height="8.7" rx="1.5" fill="#0e6a8b"/><rect x="348" y="13.65" width="8.7" height="8.7" rx="1.5" fill="#0e6a8b"/><rect x="360" y="13.65" width="8.7" height="8.7" rx="1.5" fill="#0e6a8b"/><rect x="372" y="13.65" width="8.7" height="8.7" rx="1.5" fill="#0e6a8b"/><rect x="384" y="13.65" width="8.7" height="8.7" rx="1.5" fill="#0e6a8b"/><rect x="396" y="13.65" width="8.7" height="8.7" rx="1.5" fill="#0e6a8b"/><rect x="408" y="13.65" width="8.7" height="8.7" rx="1.5" fill="#0b7e97"/><rect x="420" y="13.65" width="8.7" height="8.7" rx="1.5" fill="#0b7e97"/><rect x="432" y="13.65" width="8.7" height="8.7" rx="1.5" fill="#079ba1"/><rect x="444" y="13.65" width="8.7" height="8.7" rx="1.5" fill="#079ba1"/><rect x="456" y="13.65" width="8.7" height="8.7" rx="1.5" fill="#00bfb0"/><rect x="468" y="13.65" width="8.7" height="8.7" rx="1.5" fill="#0e6a8b"/><rect x="480" y="13.65" width="8.7" height="8.7" rx="1.5" fill="#0e6a8b"/><rect x="492" y="13.65" width="8.7" height="8.7" rx="1.5" fill="#0e6a8b"/><rect x="504" y="13.65" width="8.7" height="8.7" rx="1.5" fill="#0e6a8b"/><rect x="516" y="13.65" width="8.7" height="8.7" rx="1.5" fill="#0b7e97"/><rect x="528" y="13.65" width="8.7" height="8.7" rx="1.5" fill="#079ba1"/><rect x="540" y="13.65" width="8.7" height="8.7" rx="1.5" fill="#0e6a8b"/><rect x="552" y="13.65" width="8.7" height="8.7" rx="1.5" fill="#00bfb0"/><rect x="564" y="13.65" width="8.7" height="8.7" rx="1.5" fill="#00bfb0"/><rect x="576" y="13.65" width="8.7" height="8.7" rx="1.5" fill="#0b7e97"/><rect x="588" y="13.65" width="8.7" height="8.7" rx="1.5" fill="#0e6a8b"/><rect x="600" y="13.65" width="8.7" height="8.7" rx="1.5" fill="#0b7e97"/><rect x="612" y="13.65" width="8.7" height="8.7" rx="1.5" fill="#0e6a8b"/><rect x="624" y="13.65" width="8.7" height="8.7" rx="1.5" fill="#0b7e97"/><rect x="636" y="13.65" width="8.7" height="8.7" rx="1.5" fill="#00bfb0"/><rect x="648" y="13.65" width="8.7" height="8.7" rx="1.5" fill="#0e6a8b"/><rect x="0" y="25.20" width="680.4" height="9.6" fill="#135083"/><rect x="36" y="25.65" width="8.7" height="8.7" rx="1.5" fill="#0e6a8b"/><rect x="48" y="25.65" width="8.7" height="8.7" rx="1.5" fill="#079ba1"/><rect x="60" y="25.65" width="8.7" height="8.7" rx="1.5" fill="#0b7e97"/><rect x="72" y="25.65" width="8.7" height="8.7" rx="1.5" fill="#0b7e97"/><rect x="84" y="25.65" width="8.7" height="8.7" rx="1.5" fill="#079ba1"/><rect x="96" y="25.65" width="8.7" height="8.7" rx="1.5" fill="#079ba1"/><rect x="108" y="25.65" width="8.7" height="8.7" rx="1.5" fill="#079ba1"/><rect x="120" y="25.65" width="8.7" height="8.7" rx="1.5" fill="#0e6a8b"/><rect x="132" y="25.65" width="8.7" height="8.7" rx="1.5" fill="#00bfb0"/><rect x="144" y="25.65" width="8.7" height="8.7" rx="1.5" fill="#079ba1"/><rect x="156" y="25.65" width="8.7" height="8.7" rx="1.5" fill="#0e6a8b"/><rect x="168" y="25.65" width="8.7" height="8.7" rx="1.5" fill="#0e6a8b"/><rect x="180" y="25.65" width="8.7" height="8.7" rx="1.5" fill="#00bfb0"/><rect x="192" y="25.65" width="8.7" height="8.7" rx="1.5" fill="#0e6a8b"/><rect x="204" y="25.65" width="8.7" height="8.7" rx="1.5" fill="#0e6a8b"/><rect x="216" y="25.65" width="8.7" height="8.7" rx="1.5" fill="#0e6a8b"/><rect x="228" y="25.65" width="8.7" height="8.7" rx="1.5" fill="#0e6a8b"/><rect x="240" y="25.65" width="8.7" height="8.7" rx="1.5" fill="#079ba1"/><rect x="252" y="25.65" width="8.7" height="8.7" rx="1.5" fill="#00bfb0"/><rect x="264" y="25.65" width="8.7" height="8.7" rx="1.5" fill="#00bfb0"/><rect x="276" y="25.65" width="8.7" height="8.7" rx="1.5" fill="#00bfb0"/><rect x="288" y="25.65" width="8.7" height="8.7" rx="1.5" fill="#00bfb0"/><rect x="300" y="25.65" width="8.7" height="8.7" rx="1.5" fill="#079ba1"/><rect x="312" y="25.65" width="8.7" height="8.7" rx="1.5" fill="#079ba1"/><rect x="324" y="25.65" width="8.7" height="8.7" rx="1.5" fill="#00bfb0"/><rect x="336" y="25.65" width="8.7" height="8.7" rx="1.5" fill="#0e6a8b"/><rect x="348" y="25.65" width="8.7" height="8.7" rx="1.5" fill="#079ba1"/><rect x="360" y="25.65" width="8.7" height="8.7" rx="1.5" fill="#079ba1"/><rect x="372" y="25.65" width="8.7" height="8.7" rx="1.5" fill="#079ba1"/><rect x="384" y="25.65" width="8.7" height="8.7" rx="1.5" fill="#0b7e97"/><rect x="396" y="25.65" width="8.7" height="8.7" rx="1.5" fill="#0e6a8b"/><rect x="408" y="25.65" width="8.7" height="8.7" rx="1.5" fill="#00bfb0"/><rect x="420" y="25.65" width="8.7" height="8.7" rx="1.5" fill="#079ba1"/><rect x="432" y="25.65" width="8.7" height="8.7" rx="1.5" fill="#079ba1"/><rect x="444" y="25.65" width="8.7" height="8.7" rx="1.5" fill="#079ba1"/><rect x="456" y="25.65" width="8.7" height="8.7" rx="1.5" fill="#00bfb0"/><rect x="468" y="25.65" width="8.7" height="8.7" rx="1.5" fill="#00bfb0"/><rect x="480" y="25.65" width="8.7" height="8.7" rx="1.5" fill="#00bfb0"/><rect x="492" y="25.65" width="8.7" height="8.7" rx="1.5" fill="#079ba1"/><rect x="504" y="25.65" width="8.7" height="8.7" rx="1.5" fill="#0e6a8b"/><rect x="516" y="25.65" width="8.7" height="8.7" rx="1.5" fill="#079ba1"/><rect x="528" y="25.65" width="8.7" height="8.7" rx="1.5" fill="#0b7e97"/><rect x="540" y="25.65" width="8.7" height="8.7" rx="1.5" fill="#0e6a8b"/><rect x="552" y="25.65" width="8.7" height="8.7" rx="1.5" fill="#00bfb0"/><rect x="564" y="25.65" width="8.7" height="8.7" rx="1.5" fill="#0e6a8b"/><rect x="576" y="25.65" width="8.7" height="8.7" rx="1.5" fill="#0b7e97"/><rect x="588" y="25.65" width="8.7" height="8.7" rx="1.5" fill="#0b7e97"/><rect x="600" y="25.65" width="8.7" height="8.7" rx="1.5" fill="#00bfb0"/><rect x="612" y="25.65" width="8.7" height="8.7" rx="1.5" fill="#00bfb0"/><rect x="624" y="25.65" width="8.7" height="8.7" rx="1.5" fill="#00bfb0"/><rect x="636" y="25.65" width="8.7" height="8.7" rx="1.5" fill="#079ba1"/><rect x="648" y="25.65" width="8.7" height="8.7" rx="1.5" fill="#00bfb0"/><rect x="0" y="37.20" width="680.4" height="9.6" fill="#135083"/><rect x="36" y="37.65" width="8.7" height="8.7" rx="1.5" fill="#079ba1"/><rect x="48" y="37.65" width="8.7" height="8.7" rx="1.5" fill="#079ba1"/><rect x="60" y="37.65" width="8.7" height="8.7" rx="1.5" fill="#00bfb0"/><rect x="72" y="37.65" width="8.7" height="8.7" rx="1.5" fill="#079ba1"/><rect x="84" y="37.65" width="8.7" height="8.7" rx="1.5" fill="#0e6a8b"/><rect x="96" y="37.65" width="8.7" height="8.7" rx="1.5" fill="#00bfb0"/><rect x="108" y="37.65" width="8.7" height="8.7" rx="1.5" fill="#079ba1"/><rect x="120" y="37.65" width="8.7" height="8.7" rx="1.5" fill="#0e6a8b"/><rect x="132" y="37.65" width="8.7" height="8.7" rx="1.5" fill="#00bfb0"/><rect x="144" y="37.65" width="8.7" height="8.7" rx="1.5" fill="#0b7e97"/><rect x="156" y="37.65" width="8.7" height="8.7" rx="1.5" fill="#0b7e97"/><rect x="168" y="37.65" width="8.7" height="8.7" rx="1.5" fill="#00bfb0"/><rect x="180" y="37.65" width="8.7" height="8.7" rx="1.5" fill="#0b7e97"/><rect x="192" y="37.65" width="8.7" height="8.7" rx="1.5" fill="#079ba1"/><rect x="204" y="37.65" width="8.7" height="8.7" rx="1.5" fill="#0e6a8b"/><rect x="216" y="37.65" width="8.7" height="8.7" rx="1.5" fill="#0e6a8b"/><rect x="228" y="37.65" width="8.7" height="8.7" rx="1.5" fill="#079ba1"/><rect x="240" y="37.65" width="8.7" height="8.7" rx="1.5" fill="#00bfb0"/><rect x="252" y="37.65" width="8.7" height="8.7" rx="1.5" fill="#0e6a8b"/><rect x="264" y="37.65" width="8.7" height="8.7" rx="1.5" fill="#00bfb0"/><rect x="276" y="37.65" width="8.7" height="8.7" rx="1.5" fill="#0e6a8b"/><rect x="288" y="37.65" width="8.7" height="8.7" rx="1.5" fill="#00bfb0"/><rect x="300" y="37.65" width="8.7" height="8.7" rx="1.5" fill="#079ba1"/><rect x="312" y="37.65" width="8.7" height="8.7" rx="1.5" fill="#079ba1"/><rect x="324" y="37.65" width="8.7" height="8.7" rx="1.5" fill="#0e6a8b"/><rect x="336" y="37.65" width="8.7" height="8.7" rx="1.5" fill="#079ba1"/><rect x="348" y="37.65" width="8.7" height="8.7" rx="1.5" fill="#00bfb0"/><rect x="360" y="37.65" width="8.7" height="8.7" rx="1.5" fill="#00bfb0"/><rect x="372" y="37.65" width="8.7" height="8.7" rx="1.5" fill="#00bfb0"/><rect x="384" y="37.65" width="8.7" height="8.7" rx="1.5" fill="#0b7e97"/><rect x="396" y="37.65" width="8.7" height="8.7" rx="1.5" fill="#00bfb0"/><rect x="408" y="37.65" width="8.7" height="8.7" rx="1.5" fill="#00bfb0"/><rect x="420" y="37.65" width="8.7" height="8.7" rx="1.5" fill="#079ba1"/><rect x="432" y="37.65" width="8.7" height="8.7" rx="1.5" fill="#00bfb0"/><rect x="444" y="37.65" width="8.7" height="8.7" rx="1.5" fill="#0b7e97"/><rect x="456" y="37.65" width="8.7" height="8.7" rx="1.5" fill="#00bfb0"/><rect x="468" y="37.65" width="8.7" height="8.7" rx="1.5" fill="#00bfb0"/><rect x="480" y="37.65" width="8.7" height="8.7" rx="1.5" fill="#00bfb0"/><rect x="492" y="37.65" width="8.7" height="8.7" rx="1.5" fill="#079ba1"/><rect x="504" y="37.65" width="8.7" height="8.7" rx="1.5" fill="#0b7e97"/><rect x="516" y="37.65" width="8.7" height="8.7" rx="1.5" fill="#0e6a8b"/><rect x="528" y="37.65" width="8.7" height="8.7" rx="1.5" fill="#0e6a8b"/><rect x="540" y="37.65" width="8.7" height="8.7" rx="1.5" fill="#0b7e97"/><rect x="552" y="37.65" width="8.7" height="8.7" rx="1.5" fill="#079ba1"/><rect x="564" y="37.65" width="8.7" height="8.7" rx="1.5" fill="#00bfb0"/><rect x="576" y="37.65" width="8.7" height="8.7" rx="1.5" fill="#00bfb0"/><rect x="588" y="37.65" width="8.7" height="8.7" rx="1.5" fill="#00bfb0"/><rect x="600" y="37.65" width="8.7" height="8.7" rx="1.5" fill="#00bfb0"/><rect x="612" y="37.65" width="8.7" height="8.7" rx="1.5" fill="#00bfb0"/><rect x="624" y="37.65" width="8.7" height="8.7" rx="1.5" fill="#00bfb0"/><rect x="636" y="37.65" width="8.7" height="8.7" rx="1.5" fill="#00bfb0"/><rect x="648" y="37.65" width="8.7" height="8.7" rx="1.5" fill="#0b7e97"/><rect x="0" y="49.20" width="680.4" height="9.6" fill="#135083"/><rect x="24" y="49.65" width="8.7" height="8.7" rx="1.5" fill="#0e6a8b"/><rect x="36" y="49.65" width="8.7" height="8.7" rx="1.5" fill="#079ba1"/><rect x="48" y="49.65" width="8.7" height="8.7" rx="1.5" fill="#079ba1"/><rect x="60" y="49.65" width="8.7" height="8.7" rx="1.5" fill="#0e6a8b"/><rect x="72" y="49.65" width="8.7" height="8.7" rx="1.5" fill="#079ba1"/><rect x="84" y="49.65" width="8.7" height="8.7" rx="1.5" fill="#00bfb0"/><rect x="96" y="49.65" width="8.7" height="8.7" rx="1.5" fill="#0e6a8b"/><rect x="108" y="49.65" width="8.7" height="8.7" rx="1.5" fill="#0e6a8b"/><rect x="120" y="49.65" width="8.7" height="8.7" rx="1.5" fill="#00bfb0"/><rect x="132" y="49.65" width="8.7" height="8.7" rx="1.5" fill="#00bfb0"/><rect x="144" y="49.65" width="8.7" height="8.7" rx="1.5" fill="#0b7e97"/><rect x="156" y="49.65" width="8.7" height="8.7" rx="1.5" fill="#00bfb0"/><rect x="168" y="49.65" width="8.7" height="8.7" rx="1.5" fill="#079ba1"/><rect x="180" y="49.65" width="8.7" height="8.7" rx="1.5" fill="#0b7e97"/><rect x="192" y="49.65" width="8.7" height="8.7" rx="1.5" fill="#0b7e97"/><rect x="204" y="49.65" width="8.7" height="8.7" rx="1.5" fill="#079ba1"/><rect x="216" y="49.65" width="8.7" height="8.7" rx="1.5" fill="#079ba1"/><rect x="228" y="49.65" width="8.7" height="8.7" rx="1.5" fill="#0e6a8b"/><rect x="240" y="49.65" width="8.7" height="8.7" rx="1.5" fill="#0e6a8b"/><rect x="252" y="49.65" width="8.7" height="8.7" rx="1.5" fill="#00bfb0"/><rect x="264" y="49.65" width="8.7" height="8.7" rx="1.5" fill="#0e6a8b"/><rect x="276" y="49.65" width="8.7" height="8.7" rx="1.5" fill="#00bfb0"/><rect x="288" y="49.65" width="8.7" height="8.7" rx="1.5" fill="#00bfb0"/><rect x="300" y="49.65" width="8.7" height="8.7" rx="1.5" fill="#00bfb0"/><rect x="312" y="49.65" width="8.7" height="8.7" rx="1.5" fill="#0e6a8b"/><rect x="324" y="49.65" width="8.7" height="8.7" rx="1.5" fill="#0b7e97"/><rect x="336" y="49.65" width="8.7" height="8.7" rx="1.5" fill="#079ba1"/><rect x="348" y="49.65" width="8.7" height="8.7" rx="1.5" fill="#0e6a8b"/><rect x="360" y="49.65" width="8.7" height="8.7" rx="1.5" fill="#0e6a8b"/><rect x="372" y="49.65" width="8.7" height="8.7" rx="1.5" fill="#00bfb0"/><rect x="384" y="49.65" width="8.7" height="8.7" rx="1.5" fill="#0e6a8b"/><rect x="396" y="49.65" width="8.7" height="8.7" rx="1.5" fill="#079ba1"/><rect x="408" y="49.65" width="8.7" height="8.7" rx="1.5" fill="#00bfb0"/><rect x="420" y="49.65" width="8.7" height="8.7" rx="1.5" fill="#079ba1"/><rect x="432" y="49.65" width="8.7" height="8.7" rx="1.5" fill="#00bfb0"/><rect x="444" y="49.65" width="8.7" height="8.7" rx="1.5" fill="#0b7e97"/><rect x="456" y="49.65" width="8.7" height="8.7" rx="1.5" fill="#079ba1"/><rect x="468" y="49.65" width="8.7" height="8.7" rx="1.5" fill="#079ba1"/><rect x="480" y="49.65" width="8.7" height="8.7" rx="1.5" fill="#0e6a8b"/><rect x="492" y="49.65" width="8.7" height="8.7" rx="1.5" fill="#079ba1"/><rect x="504" y="49.65" width="8.7" height="8.7" rx="1.5" fill="#0b7e97"/><rect x="516" y="49.65" width="8.7" height="8.7" rx="1.5" fill="#0e6a8b"/><rect x="528" y="49.65" width="8.7" height="8.7" rx="1.5" fill="#0e6a8b"/><rect x="540" y="49.65" width="8.7" height="8.7" rx="1.5" fill="#0b7e97"/><rect x="552" y="49.65" width="8.7" height="8.7" rx="1.5" fill="#079ba1"/><rect x="564" y="49.65" width="8.7" height="8.7" rx="1.5" fill="#0e6a8b"/><rect x="576" y="49.65" width="8.7" height="8.7" rx="1.5" fill="#079ba1"/><rect x="588" y="49.65" width="8.7" height="8.7" rx="1.5" fill="#079ba1"/><rect x="600" y="49.65" width="8.7" height="8.7" rx="1.5" fill="#00bfb0"/><rect x="612" y="49.65" width="8.7" height="8.7" rx="1.5" fill="#079ba1"/><rect x="624" y="49.65" width="8.7" height="8.7" rx="1.5" fill="#00bfb0"/><rect x="636" y="49.65" width="8.7" height="8.7" rx="1.5" fill="#00bfb0"/><rect x="648" y="49.65" width="8.7" height="8.7" rx="1.5" fill="#00bfb0"/><rect x="0" y="61.20" width="680.4" height="9.6" fill="#135083"/><rect x="24" y="61.65" width="8.7" height="8.7" rx="1.5" fill="#0e6a8b"/><rect x="36" y="61.65" width="8.7" height="8.7" rx="1.5" fill="#079ba1"/><rect x="48" y="61.65" width="8.7" height="8.7" rx="1.5" fill="#0e6a8b"/><rect x="60" y="61.65" width="8.7" height="8.7" rx="1.5" fill="#0e6a8b"/><rect x="72" y="61.65" width="8.7" height="8.7" rx="1.5" fill="#079ba1"/><rect x="84" y="61.65" width="8.7" height="8.7" rx="1.5" fill="#0b7e97"/><rect x="96" y="61.65" width="8.7" height="8.7" rx="1.5" fill="#0b7e97"/><rect x="108" y="61.65" width="8.7" height="8.7" rx="1.5" fill="#0b7e97"/><rect x="120" y="61.65" width="8.7" height="8.7" rx="1.5" fill="#0b7e97"/><rect x="132" y="61.65" width="8.7" height="8.7" rx="1.5" fill="#0b7e97"/><rect x="144" y="61.65" width="8.7" height="8.7" rx="1.5" fill="#0b7e97"/><rect x="156" y="61.65" width="8.7" height="8.7" rx="1.5" fill="#0b7e97"/><rect x="168" y="61.65" width="8.7" height="8.7" rx="1.5" fill="#079ba1"/><rect x="180" y="61.65" width="8.7" height="8.7" rx="1.5" fill="#00bfb0"/><rect x="192" y="61.65" width="8.7" height="8.7" rx="1.5" fill="#0e6a8b"/><rect x="204" y="61.65" width="8.7" height="8.7" rx="1.5" fill="#0e6a8b"/><rect x="216" y="61.65" width="8.7" height="8.7" rx="1.5" fill="#00bfb0"/><rect x="228" y="61.65" width="8.7" height="8.7" rx="1.5" fill="#0e6a8b"/><rect x="240" y="61.65" width="8.7" height="8.7" rx="1.5" fill="#0e6a8b"/><rect x="252" y="61.65" width="8.7" height="8.7" rx="1.5" fill="#00bfb0"/><rect x="264" y="61.65" width="8.7" height="8.7" rx="1.5" fill="#0e6a8b"/><rect x="276" y="61.65" width="8.7" height="8.7" rx="1.5" fill="#0e6a8b"/><rect x="288" y="61.65" width="8.7" height="8.7" rx="1.5" fill="#0e6a8b"/><rect x="300" y="61.65" width="8.7" height="8.7" rx="1.5" fill="#00bfb0"/><rect x="312" y="61.65" width="8.7" height="8.7" rx="1.5" fill="#0e6a8b"/><rect x="324" y="61.65" width="8.7" height="8.7" rx="1.5" fill="#0e6a8b"/><rect x="336" y="61.65" width="8.7" height="8.7" rx="1.5" fill="#0b7e97"/><rect x="348" y="61.65" width="8.7" height="8.7" rx="1.5" fill="#0b7e97"/><rect x="360" y="61.65" width="8.7" height="8.7" rx="1.5" fill="#00bfb0"/><rect x="372" y="61.65" width="8.7" height="8.7" rx="1.5" fill="#0e6a8b"/><rect x="384" y="61.65" width="8.7" height="8.7" rx="1.5" fill="#079ba1"/><rect x="396" y="61.65" width="8.7" height="8.7" rx="1.5" fill="#0e6a8b"/><rect x="408" y="61.65" width="8.7" height="8.7" rx="1.5" fill="#079ba1"/><rect x="420" y="61.65" width="8.7" height="8.7" rx="1.5" fill="#0e6a8b"/><rect x="432" y="61.65" width="8.7" height="8.7" rx="1.5" fill="#0e6a8b"/><rect x="444" y="61.65" width="8.7" height="8.7" rx="1.5" fill="#00bfb0"/><rect x="456" y="61.65" width="8.7" height="8.7" rx="1.5" fill="#079ba1"/><rect x="468" y="61.65" width="8.7" height="8.7" rx="1.5" fill="#079ba1"/><rect x="480" y="61.65" width="8.7" height="8.7" rx="1.5" fill="#0e6a8b"/><rect x="492" y="61.65" width="8.7" height="8.7" rx="1.5" fill="#079ba1"/><rect x="504" y="61.65" width="8.7" height="8.7" rx="1.5" fill="#00bfb0"/><rect x="516" y="61.65" width="8.7" height="8.7" rx="1.5" fill="#00bfb0"/><rect x="528" y="61.65" width="8.7" height="8.7" rx="1.5" fill="#00bfb0"/><rect x="540" y="61.65" width="8.7" height="8.7" rx="1.5" fill="#0e6a8b"/><rect x="552" y="61.65" width="8.7" height="8.7" rx="1.5" fill="#00bfb0"/><rect x="564" y="61.65" width="8.7" height="8.7" rx="1.5" fill="#00bfb0"/><rect x="576" y="61.65" width="8.7" height="8.7" rx="1.5" fill="#079ba1"/><rect x="588" y="61.65" width="8.7" height="8.7" rx="1.5" fill="#079ba1"/><rect x="600" y="61.65" width="8.7" height="8.7" rx="1.5" fill="#00bfb0"/><rect x="612" y="61.65" width="8.7" height="8.7" rx="1.5" fill="#079ba1"/><rect x="624" y="61.65" width="8.7" height="8.7" rx="1.5" fill="#00bfb0"/><rect x="636" y="61.65" width="8.7" height="8.7" rx="1.5" fill="#00bfb0"/><rect x="648" y="61.65" width="8.7" height="8.7" rx="1.5" fill="#0e6a8b"/><rect x="0" y="73.20" width="680.4" height="9.6" fill="#135083"/><rect x="24.5" y="74.15" width="7.7" height="7.7" rx="1" fill="#154f87" stroke="#107094" stroke-width="1"/><rect x="36" y="73.65" width="8.7" height="8.7" rx="1.5" fill="#0e6a8b"/><rect x="48" y="73.65" width="8.7" height="8.7" rx="1.5" fill="#0e6a8b"/><rect x="60.5" y="74.15" width="7.7" height="7.7" rx="1" fill="#154f87" stroke="#107094" stroke-width="1"/><rect x="72.5" y="74.15" width="7.7" height="7.7" rx="1" fill="#154f87" stroke="#107094" stroke-width="1"/><rect x="84.5" y="74.15" width="7.7" height="7.7" rx="1" fill="#154f87" stroke="#107094" stroke-width="1"/><rect x="96.5" y="74.15" width="7.7" height="7.7" rx="1" fill="#154f87" stroke="#107094" stroke-width="1"/><rect x="108.5" y="74.15" width="7.7" height="7.7" rx="1" fill="#154f87" stroke="#107094" stroke-width="1"/><rect x="120" y="73.65" width="8.7" height="8.7" rx="1.5" fill="#0e6a8b"/><rect x="132" y="73.65" width="8.7" height="8.7" rx="1.5" fill="#0e6a8b"/><rect x="144.5" y="74.15" width="7.7" height="7.7" rx="1" fill="#154f87" stroke="#107094" stroke-width="1"/><rect x="156.5" y="74.15" width="7.7" height="7.7" rx="1" fill="#154f87" stroke="#107094" stroke-width="1"/><rect x="168.5" y="74.15" width="7.7" height="7.7" rx="1" fill="#154f87" stroke="#107094" stroke-width="1"/><rect x="180.5" y="74.15" width="7.7" height="7.7" rx="1" fill="#154f87" stroke="#107094" stroke-width="1"/><rect x="192.5" y="74.15" width="7.7" height="7.7" rx="1" fill="#154f87" stroke="#107094" stroke-width="1"/><rect x="204.5" y="74.15" width="7.7" height="7.7" rx="1" fill="#154f87" stroke="#107094" stroke-width="1"/><rect x="216" y="73.65" width="8.7" height="8.7" rx="1.5" fill="#0e6a8b"/><rect x="228" y="73.65" width="8.7" height="8.7" rx="1.5" fill="#0e6a8b"/><rect x="240" y="73.65" width="8.7" height="8.7" rx="1.5" fill="#0e6a8b"/><rect x="252.5" y="74.15" width="7.7" height="7.7" rx="1" fill="#154f87" stroke="#107094" stroke-width="1"/><rect x="264.5" y="74.15" width="7.7" height="7.7" rx="1" fill="#154f87" stroke="#107094" stroke-width="1"/><rect x="276.5" y="74.15" width="7.7" height="7.7" rx="1" fill="#154f87" stroke="#107094" stroke-width="1"/><rect x="288.5" y="74.15" width="7.7" height="7.7" rx="1" fill="#154f87" stroke="#107094" stroke-width="1"/><rect x="300" y="73.65" width="8.7" height="8.7" rx="1.5" fill="#0e6a8b"/><rect x="312.5" y="74.15" width="7.7" height="7.7" rx="1" fill="#154f87" stroke="#107094" stroke-width="1"/><rect x="324" y="73.65" width="8.7" height="8.7" rx="1.5" fill="#0e6a8b"/><rect x="336.5" y="74.15" width="7.7" height="7.7" rx="1" fill="#154f87" stroke="#107094" stroke-width="1"/><rect x="348.5" y="74.15" width="7.7" height="7.7" rx="1" fill="#154f87" stroke="#107094" stroke-width="1"/><rect x="360.5" y="74.15" width="7.7" height="7.7" rx="1" fill="#154f87" stroke="#107094" stroke-width="1"/><rect x="372" y="73.65" width="8.7" height="8.7" rx="1.5" fill="#0e6a8b"/><rect x="384.5" y="74.15" width="7.7" height="7.7" rx="1" fill="#154f87" stroke="#107094" stroke-width="1"/><rect x="396" y="73.65" width="8.7" height="8.7" rx="1.5" fill="#0e6a8b"/><rect x="408.5" y="74.15" width="7.7" height="7.7" rx="1" fill="#154f87" stroke="#107094" stroke-width="1"/><rect x="420" y="73.65" width="8.7" height="8.7" rx="1.5" fill="#0e6a8b"/><rect x="432.5" y="74.15" width="7.7" height="7.7" rx="1" fill="#154f87" stroke="#107094" stroke-width="1"/><rect x="444" y="73.65" width="8.7" height="8.7" rx="1.5" fill="#0e6a8b"/><rect x="456" y="73.65" width="8.7" height="8.7" rx="1.5" fill="#0e6a8b"/><rect x="468.5" y="74.15" width="7.7" height="7.7" rx="1" fill="#154f87" stroke="#107094" stroke-width="1"/><rect x="480" y="73.65" width="8.7" height="8.7" rx="1.5" fill="#0e6a8b"/><rect x="492" y="73.65" width="8.7" height="8.7" rx="1.5" fill="#0e6a8b"/><rect x="504.5" y="74.15" width="7.7" height="7.7" rx="1" fill="#154f87" stroke="#107094" stroke-width="1"/><rect x="516" y="73.65" width="8.7" height="8.7" rx="1.5" fill="#0e6a8b"/><rect x="528" y="73.65" width="8.7" height="8.7" rx="1.5" fill="#0e6a8b"/><rect x="540.5" y="74.15" width="7.7" height="7.7" rx="1" fill="#154f87" stroke="#107094" stroke-width="1"/><rect x="552.5" y="74.15" width="7.7" height="7.7" rx="1" fill="#154f87" stroke="#107094" stroke-width="1"/><rect x="564.5" y="74.15" width="7.7" height="7.7" rx="1" fill="#154f87" stroke="#107094" stroke-width="1"/><rect x="576.5" y="74.15" width="7.7" height="7.7" rx="1" fill="#154f87" stroke="#107094" stroke-width="1"/><rect x="588" y="73.65" width="8.7" height="8.7" rx="1.5" fill="#0e6a8b"/><rect x="600" y="73.65" width="8.7" height="8.7" rx="1.5" fill="#0e6a8b"/><rect x="612" y="73.65" width="8.7" height="8.7" rx="1.5" fill="#0e6a8b"/><rect x="624" y="73.65" width="8.7" height="8.7" rx="1.5" fill="#0e6a8b"/><rect x="636.5" y="74.15" width="7.7" height="7.7" rx="1" fill="#154f87" stroke="#107094" stroke-width="1"/><rect x="648.5" y="74.15" width="7.7" height="7.7" rx="1" fill="#154f87" stroke="#107094" stroke-width="1"/></svg></svg>
<span class="t" style="left:263px;top:321px;font-size:9.1px;line-height:10px;color:#a9cbe8;transform-origin:0 8px;transform:translate(0.90px,0.50px) rotate(0.03deg) scaleX(0.9202);">Sun</span>
<span class="t" style="left:929px;top:321px;font-size:9.1px;line-height:10px;color:#a9cbe8;transform-origin:0 8px;transform:translate(0.10px,0.50px) rotate(0.03deg) scaleX(0.9202);">Sun</span>
<span class="t" style="left:263px;top:333px;font-size:9.1px;line-height:10px;color:#a9cbe8;transform-origin:0 8px;transform:translate(0.90px,0.50px) rotate(0.03deg) scaleX(0.9999);">Mon</span>
<span class="t" style="left:926px;top:333px;font-size:9.1px;line-height:10px;color:#a9cbe8;transform-origin:0 8px;transform:translate(0.30px,0.50px) rotate(0.03deg) scaleX(0.9999);">Mon</span>
<span class="t" style="left:263px;top:345px;font-size:9.1px;line-height:10px;color:#a9cbe8;transform-origin:0 8px;transform:translate(0.90px,0.50px) rotate(0.03deg) scaleX(0.9516);">Tue</span>
<span class="t" style="left:929px;top:345px;font-size:9.1px;line-height:10px;color:#a9cbe8;transform-origin:0 8px;transform:translate(0.40px,0.50px) rotate(0.03deg) scaleX(0.9516);">Tue</span>
<span class="t" style="left:263px;top:357px;font-size:9.1px;line-height:10px;color:#a9cbe8;transform-origin:0 8px;transform:translate(0.90px,0.50px) rotate(0.03deg) scaleX(0.9274);">Wed</span>
<span class="t" style="left:926px;top:357px;font-size:9.1px;line-height:10px;color:#a9cbe8;transform-origin:0 8px;transform:translate(0.80px,0.50px) rotate(0.03deg) scaleX(0.9274);">Wed</span>
<span class="t" style="left:263px;top:369px;font-size:9.1px;line-height:10px;color:#a9cbe8;transform-origin:0 8px;transform:translate(0.90px,0.50px) rotate(0.03deg) scaleX(0.9693);">Thu</span>
<span class="t" style="left:928px;top:369px;font-size:9.1px;line-height:10px;color:#a9cbe8;transform-origin:0 8px;transform:translate(0.80px,0.50px) rotate(0.03deg) scaleX(0.9693);">Thu</span>
<span class="t" style="left:263px;top:381px;font-size:9.1px;line-height:10px;color:#a9cbe8;transform-origin:0 8px;transform:translate(0.90px,0.50px) rotate(0.03deg) scaleX(0.9990);">Fri</span>
<span class="t" style="left:933px;top:381px;font-size:9.1px;line-height:10px;color:#a9cbe8;transform-origin:0 8px;transform:translate(0.40px,0.50px) rotate(0.03deg) scaleX(0.9990);">Fri</span>
<span class="t" style="left:263px;top:393px;font-size:9.1px;line-height:10px;color:#a9cbe8;transform-origin:0 8px;transform:translate(0.90px,0.50px) rotate(0.03deg) scaleX(0.9664);">Sat</span>
<span class="t" style="left:930px;top:393px;font-size:9.1px;line-height:10px;color:#a9cbe8;transform-origin:0 8px;transform:translate(0.80px,0.50px) rotate(0.03deg) scaleX(0.9664);">Sat</span>
<svg class="r" style="left:0;top:0" width="1024" height="576" viewBox="0 0 1024 576"><rect x="223.30" y="423.60" width="785.90" height="158.80" fill="#074876"/><circle cx="242.85" cy="441.50" r="13.30" fill="none" stroke="#08bbac" stroke-width="1.1"/></svg>
<span class="t" style="left:238px;top:435px;font-size:11px;line-height:12px;color:#08bbac;transform-origin:0 10px;font-weight:700;transform:translate(0.93px,0.60px) rotate(0.03deg) scaleX(1.0000);">N</span>
<svg class="r" style="left:0;top:0" width="1024" height="576" viewBox="0 0 1024 576"><circle cx="252.60" cy="451.40" r="3.85" fill="#08bbac"/></svg>
<span class="t" style="left:264px;top:431px;font-size:10.4px;line-height:11px;color:#c3daf0;transform-origin:0 9px;-webkit-text-stroke:0.3px currentColor;transform:translate(0.20px,0.10px) rotate(0.03deg) scaleX(1.0010);">Nolan</span>
<span class="t" style="left:264px;top:443px;font-size:10.1px;line-height:11px;color:#7ba5cc;transform-origin:0 9px;transform:translate(0.20px,0.20px) rotate(0.03deg) scaleX(0.9670);">Nolan@company.com</span>
<span class="t" style="left:403px;top:435px;font-size:10.6px;line-height:12px;color:#08bbac;transform-origin:0 10px;-webkit-text-stroke:0.3px currentColor;transform:translate(0.70px,0.20px) rotate(0.03deg) scaleX(0.9562);">Online</span>
<span class="t" style="left:677px;top:435px;font-size:10.6px;line-height:12px;color:#c5dcf2;transform-origin:0 10px;transform:translate(0.80px,0.20px) rotate(0.03deg) scaleX(1.0060);">116</span>
<svg class="r" style="left:0;top:0" width="1024" height="576" viewBox="0 0 1024 576"><rect x="501.00" y="434.90" width="13.30" height="13.30" fill="#0b7e97" rx="1.5"/><rect x="518.90" y="434.90" width="13.30" height="13.30" fill="#079ba1" rx="1.5"/><rect x="536.80" y="434.90" width="13.30" height="13.30" fill="#00bfb0" rx="1.5"/><rect x="554.70" y="434.90" width="13.30" height="13.30" fill="#0b7e97" rx="1.5"/><rect x="572.60" y="434.90" width="13.30" height="13.30" fill="#00bfb0" rx="1.5"/><rect x="591.00" y="435.40" width="12.30" height="12.30" fill="none" rx="1.2" stroke="#0f5f8a" stroke-width="1"/><rect x="608.90" y="435.40" width="12.30" height="12.30" fill="none" rx="1.2" stroke="#0f5f8a" stroke-width="1"/><svg x="744.30" y="428.60" width="13.9" height="13.4" viewBox="0 0 13.9 13.4" fill="#68a7d2"><path d="M0 2.1L5.9 1.2V6.4H0Z"/><path d="M6.6 1.1L13.9 0V6.4H6.6Z"/><path d="M0 7H5.9V12.2L0 11.3Z"/><path d="M6.6 7H13.9V13.4L6.6 12.3Z"/></svg></svg>
<span class="t" style="left:737px;top:444px;font-size:7.2px;line-height:9px;color:#a9cdea;transform-origin:0 7px;font-weight:700;transform:translate(0.65px,0.70px) rotate(0.03deg) scaleX(0.9910);">Win7 32</span>
<span class="t" style="left:288px;top:468px;font-size:9px;line-height:10px;color:#a9cbe8;transform-origin:0 8px;transform:translate(0.00px,0.60px) rotate(0.03deg) scaleX(1.0000);">Jan</span>
<span class="t" style="left:348px;top:468px;font-size:9px;line-height:10px;color:#a9cbe8;transform-origin:0 8px;transform:translate(0.00px,0.60px) rotate(0.03deg) scaleX(1.0000);">Feb</span>
<span class="t" style="left:396px;top:468px;font-size:9px;line-height:10px;color:#a9cbe8;transform-origin:0 8px;transform:translate(0.00px,0.60px) rotate(0.03deg) scaleX(1.0000);">Mar</span>
<span class="t" style="left:444px;top:468px;font-size:9px;line-height:10px;color:#a9cbe8;transform-origin:0 8px;transform:translate(0.00px,0.60px) rotate(0.03deg) scaleX(1.0000);">Apr</span>
<span class="t" style="left:492px;top:468px;font-size:9px;line-height:10px;color:#a9cbe8;transform-origin:0 8px;transform:translate(0.00px,0.60px) rotate(0.03deg) scaleX(1.0000);">May</span>
<span class="t" style="left:552px;top:468px;font-size:9px;line-height:10px;color:#a9cbe8;transform-origin:0 8px;transform:translate(0.00px,0.60px) rotate(0.03deg) scaleX(1.0000);">Jun</span>
<span class="t" style="left:600px;top:468px;font-size:9px;line-height:10px;color:#a9cbe8;transform-origin:0 8px;transform:translate(0.00px,0.60px) rotate(0.03deg) scaleX(1.0000);">Jul</span>
<span class="t" style="left:648px;top:468px;font-size:9px;line-height:10px;color:#a9cbe8;transform-origin:0 8px;transform:translate(0.00px,0.60px) rotate(0.03deg) scaleX(1.0000);">Aug</span>
<span class="t" style="left:708px;top:468px;font-size:9px;line-height:10px;color:#a9cbe8;transform-origin:0 8px;transform:translate(0.00px,0.60px) rotate(0.03deg) scaleX(1.0000);">Sep</span>
<span class="t" style="left:756px;top:468px;font-size:9px;line-height:10px;color:#a9cbe8;transform-origin:0 8px;transform:translate(0.00px,0.60px) rotate(0.03deg) scaleX(1.0000);">Oct</span>
<span class="t" style="left:816px;top:468px;font-size:9px;line-height:10px;color:#a9cbe8;transform-origin:0 8px;transform:translate(0.00px,0.60px) rotate(0.03deg) scaleX(1.0000);">Nov</span>
<span class="t" style="left:864px;top:468px;font-size:9px;line-height:10px;color:#a9cbe8;transform-origin:0 8px;transform:translate(0.00px,0.60px) rotate(0.03deg) scaleX(1.0000);">Dec</span>
<svg class="r" style="left:0;top:0" width="1024" height="576" viewBox="0 0 1024 576"><svg x="264" y="484.00" width="681" height="86" viewBox="0 0 681 86"><rect x="0" y="1.20" width="680.4" height="9.6" fill="#135083"/><rect x="36.5" y="2.15" width="7.7" height="7.7" rx="1" fill="#154f87" stroke="#107094" stroke-width="1"/><rect x="48" y="1.65" width="8.7" height="8.7" rx="1.5" fill="#0e6a8b"/><rect x="60.5" y="2.15" width="7.7" height="7.7" rx="1" fill="#154f87" stroke="#107094" stroke-width="1"/><rect x="72.5" y="2.15" width="7.7" height="7.7" rx="1" fill="#154f87" stroke="#107094" stroke-width="1"/><rect x="84" y="1.65" width="8.7" height="8.7" rx="1.5" fill="#0e6a8b"/><rect x="96" y="1.65" width="8.7" height="8.7" rx="1.5" fill="#0e6a8b"/><rect x="108" y="1.65" width="8.7" height="8.7" rx="1.5" fill="#0e6a8b"/><rect x="120.5" y="2.15" width="7.7" height="7.7" rx="1" fill="#154f87" stroke="#107094" stroke-width="1"/><rect x="132.5" y="2.15" width="7.7" height="7.7" rx="1" fill="#154f87" stroke="#107094" stroke-width="1"/><rect x="144.5" y="2.15" width="7.7" height="7.7" rx="1" fill="#154f87" stroke="#107094" stroke-width="1"/><rect x="156.5" y="2.15" width="7.7" height="7.7" rx="1" fill="#154f87" stroke="#107094" stroke-width="1"/><rect x="168.5" y="2.15" width="7.7" height="7.7" rx="1" fill="#154f87" stroke="#107094" stroke-width="1"/><rect x="180.5" y="2.15" width="7.7" height="7.7" rx="1" fill="#154f87" stroke="#107094" stroke-width="1"/><rect x="192.5" y="2.15" width="7.7" height="7.7" rx="1" fill="#154f87" stroke="#107094" stroke-width="1"/><rect x="204.5" y="2.15" width="7.7" height="7.7" rx="1" fill="#154f87" stroke="#107094" stroke-width="1"/><rect x="216.5" y="2.15" width="7.7" height="7.7" rx="1" fill="#154f87" stroke="#107094" stroke-width="1"/><rect x="228" y="1.65" width="8.7" height="8.7" rx="1.5" fill="#0e6a8b"/><rect x="240.5" y="2.15" width="7.7" height="7.7" rx="1" fill="#154f87" stroke="#107094" stroke-width="1"/><rect x="252.5" y="2.15" width="7.7" height="7.7" rx="1" fill="#154f87" stroke="#107094" stroke-width="1"/><rect x="264" y="1.65" width="8.7" height="8.7" rx="1.5" fill="#0e6a8b"/><rect x="276" y="1.65" width="8.7" height="8.7" rx="1.5" fill="#0e6a8b"/><rect x="288.5" y="2.15" width="7.7" height="7.7" rx="1" fill="#154f87" stroke="#107094" stroke-width="1"/><rect x="300.5" y="2.15" width="7.7" height="7.7" rx="1" fill="#154f87" stroke="#107094" stroke-width="1"/><rect x="312.5" y="2.15" width="7.7" height="7.7" rx="1" fill="#154f87" stroke="#107094" stroke-width="1"/><rect x="324" y="1.65" width="8.7" height="8.7" rx="1.5" fill="#0e6a8b"/><rect x="336" y="1.65" width="8.7" height="8.7" rx="1.5" fill="#0e6a8b"/><rect x="348.5" y="2.15" width="7.7" height="7.7" rx="1" fill="#154f87" stroke="#107094" stroke-width="1"/><rect x="360.5" y="2.15" width="7.7" height="7.7" rx="1" fill="#154f87" stroke="#107094" stroke-width="1"/><rect x="372.5" y="2.15" width="7.7" height="7.7" rx="1" fill="#154f87" stroke="#107094" stroke-width="1"/><rect x="384" y="1.65" width="8.7" height="8.7" rx="1.5" fill="#0e6a8b"/><rect x="396.5" y="2.15" width="7.7" height="7.7" rx="1" fill="#154f87" stroke="#107094" stroke-width="1"/><rect x="408.5" y="2.15" width="7.7" height="7.7" rx="1" fill="#154f87" stroke="#107094" stroke-width="1"/><rect x="420.5" y="2.15" width="7.7" height="7.7" rx="1" fill="#154f87" stroke="#107094" stroke-width="1"/><rect x="432" y="1.65" width="8.7" height="8.7" rx="1.5" fill="#0e6a8b"/><rect x="444.5" y="2.15" width="7.7" height="7.7" rx="1" fill="#154f87" stroke="#107094" stroke-width="1"/><rect x="456.5" y="2.15" width="7.7" height="7.7" rx="1" fill="#154f87" stroke="#107094" stroke-width="1"/><rect x="468" y="1.65" width="8.7" height="8.7" rx="1.5" fill="#0e6a8b"/><rect x="480.5" y="2.15" width="7.7" height="7.7" rx="1" fill="#154f87" stroke="#107094" stroke-width="1"/><rect x="492" y="1.65" width="8.7" height="8.7" rx="1.5" fill="#0e6a8b"/><rect x="504.5" y="2.15" width="7.7" height="7.7" rx="1" fill="#154f87" stroke="#107094" stroke-width="1"/><rect x="516" y="1.65" width="8.7" height="8.7" rx="1.5" fill="#0e6a8b"/><rect x="528" y="1.65" width="8.7" height="8.7" rx="1.5" fill="#0e6a8b"/><rect x="540" y="1.65" width="8.7" height="8.7" rx="1.5" fill="#0e6a8b"/><rect x="552.5" y="2.15" width="7.7" height="7.7" rx="1" fill="#154f87" stroke="#107094" stroke-width="1"/><rect x="564.5" y="2.15" width="7.7" height="7.7" rx="1" fill="#154f87" stroke="#107094" stroke-width="1"/><rect x="576.5" y="2.15" width="7.7" height="7.7" rx="1" fill="#154f87" stroke="#107094" stroke-width="1"/><rect x="588.5" y="2.15" width="7.7" height="7.7" rx="1" fill="#154f87" stroke="#107094" stroke-width="1"/><rect x="600.5" y="2.15" width="7.7" height="7.7" rx="1" fill="#154f87" stroke="#107094" stroke-width="1"/><rect x="612" y="1.65" width="8.7" height="8.7" rx="1.5" fill="#0e6a8b"/><rect x="624" y="1.65" width="8.7" height="8.7" rx="1.5" fill="#0e6a8b"/><rect x="636.5" y="2.15" width="7.7" height="7.7" rx="1" fill="#154f87" stroke="#107094" stroke-width="1"/><rect x="648.5" y="2.15" width="7.7" height="7.7" rx="1" fill="#154f87" stroke="#107094" stroke-width="1"/><rect x="0" y="13.20" width="680.4" height="9.6" fill="#135083"/><rect x="36" y="13.65" width="8.7" height="8.7" rx="1.5" fill="#0e6a8b"/><rect x="48" y="13.65" width="8.7" height="8.7" rx="1.5" fill="#0e6a8b"/><rect x="60" y="13.65" width="8.7" height="8.7" rx="1.5" fill="#0b7e97"/><rect x="72" y="13.65" width="8.7" height="8.7" rx="1.5" fill="#0e6a8b"/><rect x="84" y="13.65" width="8.7" height="8.7" rx="1.5" fill="#0b7e97"/><rect x="96" y="13.65" width="8.7" height="8.7" rx="1.5" fill="#0b7e97"/><rect x="108" y="13.65" width="8.7" height="8.7" rx="1.5" fill="#0b7e97"/><rect x="120" y="13.65" width="8.7" height="8.7" rx="1.5" fill="#0e6a8b"/><rect x="132" y="13.65" width="8.7" height="8.7" rx="1.5" fill="#0e6a8b"/><rect x="144" y="13.65" width="8.7" height="8.7" rx="1.5" fill="#0e6a8b"/><rect x="156" y="13.65" width="8.7" height="8.7" rx="1.5" fill="#079ba1"/><rect x="168" y="13.65" width="8.7" height="8.7" rx="1.5" fill="#079ba1"/><rect x="180" y="13.65" width="8.7" height="8.7" rx="1.5" fill="#079ba1"/><rect x="192" y="13.65" width="8.7" height="8.7" rx="1.5" fill="#0e6a8b"/><rect x="204" y="13.65" width="8.7" height="8.7" rx="1.5" fill="#0e6a8b"/><rect x="216" y="13.65" width="8.7" height="8.7" rx="1.5" fill="#00bfb0"/><rect x="228" y="13.65" width="8.7" height="8.7" rx="1.5" fill="#0e6a8b"/><rect x="240" y="13.65" width="8.7" height="8.7" rx="1.5" fill="#079ba1"/><rect x="252" y="13.65" width="8.7" height="8.7" rx="1.5" fill="#0e6a8b"/><rect x="264" y="13.65" width="8.7" height="8.7" rx="1.5" fill="#0e6a8b"/><rect x="276" y="13.65" width="8.7" height="8.7" rx="1.5" fill="#00bfb0"/><rect x="288" y="13.65" width="8.7" height="8.7" rx="1.5" fill="#00bfb0"/><rect x="300" y="13.65" width="8.7" height="8.7" rx="1.5" fill="#079ba1"/><rect x="312" y="13.65" width="8.7" height="8.7" rx="1.5" fill="#079ba1"/><rect x="324" y="13.65" width="8.7" height="8.7" rx="1.5" fill="#00bfb0"/><rect x="336" y="13.65" width="8.7" height="8.7" rx="1.5" fill="#0e6a8b"/><rect x="348" y="13.65" width="8.7" height="8.7" rx="1.5" fill="#0e6a8b"/><rect x="360" y="13.65" width="8.7" height="8.7" rx="1.5" fill="#0e6a8b"/><rect x="372" y="13.65" width="8.7" height="8.7" rx="1.5" fill="#0e6a8b"/><rect x="384" y="13.65" width="8.7" height="8.7" rx="1.5" fill="#0e6a8b"/><rect x="396" y="13.65" width="8.7" height="8.7" rx="1.5" fill="#0e6a8b"/><rect x="408" y="13.65" width="8.7" height="8.7" rx="1.5" fill="#0b7e97"/><rect x="420" y="13.65" width="8.7" height="8.7" rx="1.5" fill="#0b7e97"/><rect x="432" y="13.65" width="8.7" height="8.7" rx="1.5" fill="#079ba1"/><rect x="444" y="13.65" width="8.7" height="8.7" rx="1.5" fill="#079ba1"/><rect x="456" y="13.65" width="8.7" height="8.7" rx="1.5" fill="#00bfb0"/><rect x="468" y="13.65" width="8.7" height="8.7" rx="1.5" fill="#0e6a8b"/><rect x="480" y="13.65" width="8.7" height="8.7" rx="1.5" fill="#0e6a8b"/><rect x="492" y="13.65" width="8.7" height="8.7" rx="1.5" fill="#0e6a8b"/><rect x="504" y="13.65" width="8.7" height="8.7" rx="1.5" fill="#0e6a8b"/><rect x="516" y="13.65" width="8.7" height="8.7" rx="1.5" fill="#0b7e97"/><rect x="528" y="13.65" width="8.7" height="8.7" rx="1.5" fill="#079ba1"/><rect x="540" y="13.65" width="8.7" height="8.7" rx="1.5" fill="#0e6a8b"/><rect x="552" y="13.65" width="8.7" height="8.7" rx="1.5" fill="#00bfb0"/><rect x="564" y="13.65" width="8.7" height="8.7" rx="1.5" fill="#00bfb0"/><rect x="576" y="13.65" width="8.7" height="8.7" rx="1.5" fill="#0b7e97"/><rect x="588" y="13.65" width="8.7" height="8.7" rx="1.5" fill="#0e6a8b"/><rect x="600" y="13.65" width="8.7" height="8.7" rx="1.5" fill="#0b7e97"/><rect x="612" y="13.65" width="8.7" height="8.7" rx="1.5" fill="#0e6a8b"/><rect x="624" y="13.65" width="8.7" height="8.7" rx="1.5" fill="#0b7e97"/><rect x="636" y="13.65" width="8.7" height="8.7" rx="1.5" fill="#00bfb0"/><rect x="648" y="13.65" width="8.7" height="8.7" rx="1.5" fill="#0e6a8b"/><rect x="0" y="25.20" width="680.4" height="9.6" fill="#135083"/><rect x="36" y="25.65" width="8.7" height="8.7" rx="1.5" fill="#0e6a8b"/><rect x="48" y="25.65" width="8.7" height="8.7" rx="1.5" fill="#079ba1"/><rect x="60" y="25.65" width="8.7" height="8.7" rx="1.5" fill="#0b7e97"/><rect x="72" y="25.65" width="8.7" height="8.7" rx="1.5" fill="#0b7e97"/><rect x="84" y="25.65" width="8.7" height="8.7" rx="1.5" fill="#079ba1"/><rect x="96" y="25.65" width="8.7" height="8.7" rx="1.5" fill="#079ba1"/><rect x="108" y="25.65" width="8.7" height="8.7" rx="1.5" fill="#079ba1"/><rect x="120" y="25.65" width="8.7" height="8.7" rx="1.5" fill="#0e6a8b"/><rect x="132" y="25.65" width="8.7" height="8.7" rx="1.5" fill="#00bfb0"/><rect x="144" y="25.65" width="8.7" height="8.7" rx="1.5" fill="#079ba1"/><rect x="156" y="25.65" width="8.7" height="8.7" rx="1.5" fill="#0e6a8b"/><rect x="168" y="25.65" width="8.7" height="8.7" rx="1.5" fill="#0e6a8b"/><rect x="180" y="25.65" width="8.7" height="8.7" rx="1.5" fill="#00bfb0"/><rect x="192" y="25.65" width="8.7" height="8.7" rx="1.5" fill="#0e6a8b"/><rect x="204" y="25.65" width="8.7" height="8.7" rx="1.5" fill="#0e6a8b"/><rect x="216" y="25.65" width="8.7" height="8.7" rx="1.5" fill="#0e6a8b"/><rect x="228" y="25.65" width="8.7" height="8.7" rx="1.5" fill="#0e6a8b"/><rect x="240" y="25.65" width="8.7" height="8.7" rx="1.5" fill="#079ba1"/><rect x="252" y="25.65" width="8.7" height="8.7" rx="1.5" fill="#00bfb0"/><rect x="264" y="25.65" width="8.7" height="8.7" rx="1.5" fill="#00bfb0"/><rect x="276" y="25.65" width="8.7" height="8.7" rx="1.5" fill="#00bfb0"/><rect x="288" y="25.65" width="8.7" height="8.7" rx="1.5" fill="#00bfb0"/><rect x="300" y="25.65" width="8.7" height="8.7" rx="1.5" fill="#079ba1"/><rect x="312" y="25.65" width="8.7" height="8.7" rx="1.5" fill="#079ba1"/><rect x="324" y="25.65" width="8.7" height="8.7" rx="1.5" fill="#00bfb0"/><rect x="336" y="25.65" width="8.7" height="8.7" rx="1.5" fill="#0e6a8b"/><rect x="348" y="25.65" width="8.7" height="8.7" rx="1.5" fill="#079ba1"/><rect x="360" y="25.65" width="8.7" height="8.7" rx="1.5" fill="#079ba1"/><rect x="372" y="25.65" width="8.7" height="8.7" rx="1.5" fill="#079ba1"/><rect x="384" y="25.65" width="8.7" height="8.7" rx="1.5" fill="#0b7e97"/><rect x="396" y="25.65" width="8.7" height="8.7" rx="1.5" fill="#0e6a8b"/><rect x="408" y="25.65" width="8.7" height="8.7" rx="1.5" fill="#00bfb0"/><rect x="420" y="25.65" width="8.7" height="8.7" rx="1.5" fill="#079ba1"/><rect x="432" y="25.65" width="8.7" height="8.7" rx="1.5" fill="#079ba1"/><rect x="444" y="25.65" width="8.7" height="8.7" rx="1.5" fill="#079ba1"/><rect x="456" y="25.65" width="8.7" height="8.7" rx="1.5" fill="#00bfb0"/><rect x="468" y="25.65" width="8.7" height="8.7" rx="1.5" fill="#00bfb0"/><rect x="480" y="25.65" width="8.7" height="8.7" rx="1.5" fill="#00bfb0"/><rect x="492" y="25.65" width="8.7" height="8.7" rx="1.5" fill="#079ba1"/><rect x="504" y="25.65" width="8.7" height="8.7" rx="1.5" fill="#0e6a8b"/><rect x="516" y="25.65" width="8.7" height="8.7" rx="1.5" fill="#079ba1"/><rect x="528" y="25.65" width="8.7" height="8.7" rx="1.5" fill="#0b7e97"/><rect x="540" y="25.65" width="8.7" height="8.7" rx="1.5" fill="#0e6a8b"/><rect x="552" y="25.65" width="8.7" height="8.7" rx="1.5" fill="#00bfb0"/><rect x="564" y="25.65" width="8.7" height="8.7" rx="1.5" fill="#0e6a8b"/><rect x="576" y="25.65" width="8.7" height="8.7" rx="1.5" fill="#0b7e97"/><rect x="588" y="25.65" width="8.7" height="8.7" rx="1.5" fill="#0b7e97"/><rect x="600" y="25.65" width="8.7" height="8.7" rx="1.5" fill="#00bfb0"/><rect x="612" y="25.65" width="8.7" height="8.7" rx="1.5" fill="#00bfb0"/><rect x="624" y="25.65" width="8.7" height="8.7" rx="1.5" fill="#00bfb0"/><rect x="636" y="25.65" width="8.7" height="8.7" rx="1.5" fill="#079ba1"/><rect x="648" y="25.65" width="8.7" height="8.7" rx="1.5" fill="#00bfb0"/><rect x="0" y="37.20" width="680.4" height="9.6" fill="#135083"/><rect x="36" y="37.65" width="8.7" height="8.7" rx="1.5" fill="#079ba1"/><rect x="48" y="37.65" width="8.7" height="8.7" rx="1.5" fill="#079ba1"/><rect x="60" y="37.65" width="8.7" height="8.7" rx="1.5" fill="#00bfb0"/><rect x="72" y="37.65" width="8.7" height="8.7" rx="1.5" fill="#079ba1"/><rect x="84" y="37.65" width="8.7" height="8.7" rx="1.5" fill="#0e6a8b"/><rect x="96" y="37.65" width="8.7" height="8.7" rx="1.5" fill="#00bfb0"/><rect x="108" y="37.65" width="8.7" height="8.7" rx="1.5" fill="#079ba1"/><rect x="120" y="37.65" width="8.7" height="8.7" rx="1.5" fill="#0e6a8b"/><rect x="132" y="37.65" width="8.7" height="8.7" rx="1.5" fill="#00bfb0"/><rect x="144" y="37.65" width="8.7" height="8.7" rx="1.5" fill="#0b7e97"/><rect x="156" y="37.65" width="8.7" height="8.7" rx="1.5" fill="#0b7e97"/><rect x="168" y="37.65" width="8.7" height="8.7" rx="1.5" fill="#00bfb0"/><rect x="180" y="37.65" width="8.7" height="8.7" rx="1.5" fill="#0b7e97"/><rect x="192" y="37.65" width="8.7" height="8.7" rx="1.5" fill="#079ba1"/><rect x="204" y="37.65" width="8.7" height="8.7" rx="1.5" fill="#0e6a8b"/><rect x="216" y="37.65" width="8.7" height="8.7" rx="1.5" fill="#0e6a8b"/><rect x="228" y="37.65" width="8.7" height="8.7" rx="1.5" fill="#079ba1"/><rect x="240" y="37.65" width="8.7" height="8.7" rx="1.5" fill="#00bfb0"/><rect x="252" y="37.65" width="8.7" height="8.7" rx="1.5" fill="#0e6a8b"/><rect x="264" y="37.65" width="8.7" height="8.7" rx="1.5" fill="#00bfb0"/><rect x="276" y="37.65" width="8.7" height="8.7" rx="1.5" fill="#0e6a8b"/><rect x="288" y="37.65" width="8.7" height="8.7" rx="1.5" fill="#00bfb0"/><rect x="300" y="37.65" width="8.7" height="8.7" rx="1.5" fill="#079ba1"/><rect x="312" y="37.65" width="8.7" height="8.7" rx="1.5" fill="#079ba1"/><rect x="324" y="37.65" width="8.7" height="8.7" rx="1.5" fill="#0e6a8b"/><rect x="336" y="37.65" width="8.7" height="8.7" rx="1.5" fill="#079ba1"/><rect x="348" y="37.65" width="8.7" height="8.7" rx="1.5" fill="#00bfb0"/><rect x="360" y="37.65" width="8.7" height="8.7" rx="1.5" fill="#00bfb0"/><rect x="372" y="37.65" width="8.7" height="8.7" rx="1.5" fill="#00bfb0"/><rect x="384" y="37.65" width="8.7" height="8.7" rx="1.5" fill="#0b7e97"/><rect x="396" y="37.65" width="8.7" height="8.7" rx="1.5" fill="#00bfb0"/><rect x="408" y="37.65" width="8.7" height="8.7" rx="1.5" fill="#00bfb0"/><rect x="420" y="37.65" width="8.7" height="8.7" rx="1.5" fill="#079ba1"/><rect x="432" y="37.65" width="8.7" height="8.7" rx="1.5" fill="#00bfb0"/><rect x="444" y="37.65" width="8.7" height="8.7" rx="1.5" fill="#0b7e97"/><rect x="456" y="37.65" width="8.7" height="8.7" rx="1.5" fill="#00bfb0"/><rect x="468" y="37.65" width="8.7" height="8.7" rx="1.5" fill="#00bfb0"/><rect x="480" y="37.65" width="8.7" height="8.7" rx="1.5" fill="#00bfb0"/><rect x="492" y="37.65" width="8.7" height="8.7" rx="1.5" fill="#079ba1"/><rect x="504" y="37.65" width="8.7" height="8.7" rx="1.5" fill="#0b7e97"/><rect x="516" y="37.65" width="8.7" height="8.7" rx="1.5" fill="#0e6a8b"/><rect x="528" y="37.65" width="8.7" height="8.7" rx="1.5" fill="#0e6a8b"/><rect x="540" y="37.65" width="8.7" height="8.7" rx="1.5" fill="#0b7e97"/><rect x="552" y="37.65" width="8.7" height="8.7" rx="1.5" fill="#079ba1"/><rect x="564" y="37.65" width="8.7" height="8.7" rx="1.5" fill="#00bfb0"/><rect x="576" y="37.65" width="8.7" height="8.7" rx="1.5" fill="#00bfb0"/><rect x="588" y="37.65" width="8.7" height="8.7" rx="1.5" fill="#00bfb0"/><rect x="600" y="37.65" width="8.7" height="8.7" rx="1.5" fill="#00bfb0"/><rect x="612" y="37.65" width="8.7" height="8.7" rx="1.5" fill="#00bfb0"/><rect x="624" y="37.65" width="8.7" height="8.7" rx="1.5" fill="#00bfb0"/><rect x="636" y="37.65" width="8.7" height="8.7" rx="1.5" fill="#00bfb0"/><rect x="648" y="37.65" width="8.7" height="8.7" rx="1.5" fill="#0b7e97"/><rect x="0" y="49.20" width="680.4" height="9.6" fill="#135083"/><rect x="24" y="49.65" width="8.7" height="8.7" rx="1.5" fill="#0e6a8b"/><rect x="36" y="49.65" width="8.7" height="8.7" rx="1.5" fill="#079ba1"/><rect x="48" y="49.65" width="8.7" height="8.7" rx="1.5" fill="#079ba1"/><rect x="60" y="49.65" width="8.7" height="8.7" rx="1.5" fill="#0e6a8b"/><rect x="72" y="49.65" width="8.7" height="8.7" rx="1.5" fill="#079ba1"/><rect x="84" y="49.65" width="8.7" height="8.7" rx="1.5" fill="#00bfb0"/><rect x="96" y="49.65" width="8.7" height="8.7" rx="1.5" fill="#0e6a8b"/><rect x="108" y="49.65" width="8.7" height="8.7" rx="1.5" fill="#0e6a8b"/><rect x="120" y="49.65" width="8.7" height="8.7" rx="1.5" fill="#00bfb0"/><rect x="132" y="49.65" width="8.7" height="8.7" rx="1.5" fill="#00bfb0"/><rect x="144" y="49.65" width="8.7" height="8.7" rx="1.5" fill="#0b7e97"/><rect x="156" y="49.65" width="8.7" height="8.7" rx="1.5" fill="#00bfb0"/><rect x="168" y="49.65" width="8.7" height="8.7" rx="1.5" fill="#079ba1"/><rect x="180" y="49.65" width="8.7" height="8.7" rx="1.5" fill="#0b7e97"/><rect x="192" y="49.65" width="8.7" height="8.7" rx="1.5" fill="#0b7e97"/><rect x="204" y="49.65" width="8.7" height="8.7" rx="1.5" fill="#079ba1"/><rect x="216" y="49.65" width="8.7" height="8.7" rx="1.5" fill="#079ba1"/><rect x="228" y="49.65" width="8.7" height="8.7" rx="1.5" fill="#0e6a8b"/><rect x="240" y="49.65" width="8.7" height="8.7" rx="1.5" fill="#0e6a8b"/><rect x="252" y="49.65" width="8.7" height="8.7" rx="1.5" fill="#00bfb0"/><rect x="264" y="49.65" width="8.7" height="8.7" rx="1.5" fill="#0e6a8b"/><rect x="276" y="49.65" width="8.7" height="8.7" rx="1.5" fill="#00bfb0"/><rect x="288" y="49.65" width="8.7" height="8.7" rx="1.5" fill="#00bfb0"/><rect x="300" y="49.65" width="8.7" height="8.7" rx="1.5" fill="#00bfb0"/><rect x="312" y="49.65" width="8.7" height="8.7" rx="1.5" fill="#0e6a8b"/><rect x="324" y="49.65" width="8.7" height="8.7" rx="1.5" fill="#0b7e97"/><rect x="336" y="49.65" width="8.7" height="8.7" rx="1.5" fill="#079ba1"/><rect x="348" y="49.65" width="8.7" height="8.7" rx="1.5" fill="#0e6a8b"/><rect x="360" y="49.65" width="8.7" height="8.7" rx="1.5" fill="#0e6a8b"/><rect x="372" y="49.65" width="8.7" height="8.7" rx="1.5" fill="#00bfb0"/><rect x="384" y="49.65" width="8.7" height="8.7" rx="1.5" fill="#0e6a8b"/><rect x="396" y="49.65" width="8.7" height="8.7" rx="1.5" fill="#079ba1"/><rect x="408" y="49.65" width="8.7" height="8.7" rx="1.5" fill="#00bfb0"/><rect x="420" y="49.65" width="8.7" height="8.7" rx="1.5" fill="#079ba1"/><rect x="432" y="49.65" width="8.7" height="8.7" rx="1.5" fill="#00bfb0"/><rect x="444" y="49.65" width="8.7" height="8.7" rx="1.5" fill="#0b7e97"/><rect x="456" y="49.65" width="8.7" height="8.7" rx="1.5" fill="#079ba1"/><rect x="468" y="49.65" width="8.7" height="8.7" rx="1.5" fill="#079ba1"/><rect x="480" y="49.65" width="8.7" height="8.7" rx="1.5" fill="#0e6a8b"/><rect x="492" y="49.65" width="8.7" height="8.7" rx="1.5" fill="#079ba1"/><rect x="504" y="49.65" width="8.7" height="8.7" rx="1.5" fill="#0b7e97"/><rect x="516" y="49.65" width="8.7" height="8.7" rx="1.5" fill="#0e6a8b"/><rect x="528" y="49.65" width="8.7" height="8.7" rx="1.5" fill="#0e6a8b"/><rect x="540" y="49.65" width="8.7" height="8.7" rx="1.5" fill="#0b7e97"/><rect x="552" y="49.65" width="8.7" height="8.7" rx="1.5" fill="#079ba1"/><rect x="564" y="49.65" width="8.7" height="8.7" rx="1.5" fill="#0e6a8b"/><rect x="576" y="49.65" width="8.7" height="8.7" rx="1.5" fill="#079ba1"/><rect x="588" y="49.65" width="8.7" height="8.7" rx="1.5" fill="#079ba1"/><rect x="600" y="49.65" width="8.7" height="8.7" rx="1.5" fill="#00bfb0"/><rect x="612" y="49.65" width="8.7" height="8.7" rx="1.5" fill="#079ba1"/><rect x="624" y="49.65" width="8.7" height="8.7" rx="1.5" fill="#00bfb0"/><rect x="636" y="49.65" width="8.7" height="8.7" rx="1.5" fill="#00bfb0"/><rect x="648" y="49.65" width="8.7" height="8.7" rx="1.5" fill="#00bfb0"/><rect x="0" y="61.20" width="680.4" height="9.6" fill="#135083"/><rect x="24" y="61.65" width="8.7" height="8.7" rx="1.5" fill="#0e6a8b"/><rect x="36" y="61.65" width="8.7" height="8.7" rx="1.5" fill="#079ba1"/><rect x="48" y="61.65" width="8.7" height="8.7" rx="1.5" fill="#0e6a8b"/><rect x="60" y="61.65" width="8.7" height="8.7" rx="1.5" fill="#0e6a8b"/><rect x="72" y="61.65" width="8.7" height="8.7" rx="1.5" fill="#079ba1"/><rect x="84" y="61.65" width="8.7" height="8.7" rx="1.5" fill="#0b7e97"/><rect x="96" y="61.65" width="8.7" height="8.7" rx="1.5" fill="#0b7e97"/><rect x="108" y="61.65" width="8.7" height="8.7" rx="1.5" fill="#0b7e97"/><rect x="120" y="61.65" width="8.7" height="8.7" rx="1.5" fill="#0b7e97"/><rect x="132" y="61.65" width="8.7" height="8.7" rx="1.5" fill="#0b7e97"/><rect x="144" y="61.65" width="8.7" height="8.7" rx="1.5" fill="#0b7e97"/><rect x="156" y="61.65" width="8.7" height="8.7" rx="1.5" fill="#0b7e97"/><rect x="168" y="61.65" width="8.7" height="8.7" rx="1.5" fill="#079ba1"/><rect x="180" y="61.65" width="8.7" height="8.7" rx="1.5" fill="#00bfb0"/><rect x="192" y="61.65" width="8.7" height="8.7" rx="1.5" fill="#0e6a8b"/><rect x="204" y="61.65" width="8.7" height="8.7" rx="1.5" fill="#0e6a8b"/><rect x="216" y="61.65" width="8.7" height="8.7" rx="1.5" fill="#00bfb0"/><rect x="228" y="61.65" width="8.7" height="8.7" rx="1.5" fill="#0e6a8b"/><rect x="240" y="61.65" width="8.7" height="8.7" rx="1.5" fill="#0e6a8b"/><rect x="252" y="61.65" width="8.7" height="8.7" rx="1.5" fill="#00bfb0"/><rect x="264" y="61.65" width="8.7" height="8.7" rx="1.5" fill="#0e6a8b"/><rect x="276" y="61.65" width="8.7" height="8.7" rx="1.5" fill="#0e6a8b"/><rect x="288" y="61.65" width="8.7" height="8.7" rx="1.5" fill="#0e6a8b"/><rect x="300" y="61.65" width="8.7" height="8.7" rx="1.5" fill="#00bfb0"/><rect x="312" y="61.65" width="8.7" height="8.7" rx="1.5" fill="#0e6a8b"/><rect x="324" y="61.65" width="8.7" height="8.7" rx="1.5" fill="#0e6a8b"/><rect x="336" y="61.65" width="8.7" height="8.7" rx="1.5" fill="#0b7e97"/><rect x="348" y="61.65" width="8.7" height="8.7" rx="1.5" fill="#0b7e97"/><rect x="360" y="61.65" width="8.7" height="8.7" rx="1.5" fill="#00bfb0"/><rect x="372" y="61.65" width="8.7" height="8.7" rx="1.5" fill="#0e6a8b"/><rect x="384" y="61.65" width="8.7" height="8.7" rx="1.5" fill="#079ba1"/><rect x="396" y="61.65" width="8.7" height="8.7" rx="1.5" fill="#0e6a8b"/><rect x="408" y="61.65" width="8.7" height="8.7" rx="1.5" fill="#079ba1"/><rect x="420" y="61.65" width="8.7" height="8.7" rx="1.5" fill="#0e6a8b"/><rect x="432" y="61.65" width="8.7" height="8.7" rx="1.5" fill="#0e6a8b"/><rect x="444" y="61.65" width="8.7" height="8.7" rx="1.5" fill="#00bfb0"/><rect x="456" y="61.65" width="8.7" height="8.7" rx="1.5" fill="#079ba1"/><rect x="468" y="61.65" width="8.7" height="8.7" rx="1.5" fill="#079ba1"/><rect x="480" y="61.65" width="8.7" height="8.7" rx="1.5" fill="#0e6a8b"/><rect x="492" y="61.65" width="8.7" height="8.7" rx="1.5" fill="#079ba1"/><rect x="504" y="61.65" width="8.7" height="8.7" rx="1.5" fill="#00bfb0"/><rect x="516" y="61.65" width="8.7" height="8.7" rx="1.5" fill="#00bfb0"/><rect x="528" y="61.65" width="8.7" height="8.7" rx="1.5" fill="#00bfb0"/><rect x="540" y="61.65" width="8.7" height="8.7" rx="1.5" fill="#0e6a8b"/><rect x="552" y="61.65" width="8.7" height="8.7" rx="1.5" fill="#00bfb0"/><rect x="564" y="61.65" width="8.7" height="8.7" rx="1.5" fill="#00bfb0"/><rect x="576" y="61.65" width="8.7" height="8.7" rx="1.5" fill="#079ba1"/><rect x="588" y="61.65" width="8.7" height="8.7" rx="1.5" fill="#079ba1"/><rect x="600" y="61.65" width="8.7" height="8.7" rx="1.5" fill="#00bfb0"/><rect x="612" y="61.65" width="8.7" height="8.7" rx="1.5" fill="#079ba1"/><rect x="624" y="61.65" width="8.7" height="8.7" rx="1.5" fill="#00bfb0"/><rect x="636" y="61.65" width="8.7" height="8.7" rx="1.5" fill="#00bfb0"/><rect x="648" y="61.65" width="8.7" height="8.7" rx="1.5" fill="#0e6a8b"/><rect x="0" y="73.20" width="680.4" height="9.6" fill="#135083"/><rect x="24.5" y="74.15" width="7.7" height="7.7" rx="1" fill="#154f87" stroke="#107094" stroke-width="1"/><rect x="36" y="73.65" width="8.7" height="8.7" rx="1.5" fill="#0e6a8b"/><rect x="48" y="73.65" width="8.7" height="8.7" rx="1.5" fill="#0e6a8b"/><rect x="60.5" y="74.15" width="7.7" height="7.7" rx="1" fill="#154f87" stroke="#107094" stroke-width="1"/><rect x="72.5" y="74.15" width="7.7" height="7.7" rx="1" fill="#154f87" stroke="#107094" stroke-width="1"/><rect x="84.5" y="74.15" width="7.7" height="7.7" rx="1" fill="#154f87" stroke="#107094" stroke-width="1"/><rect x="96.5" y="74.15" width="7.7" height="7.7" rx="1" fill="#154f87" stroke="#107094" stroke-width="1"/><rect x="108.5" y="74.15" width="7.7" height="7.7" rx="1" fill="#154f87" stroke="#107094" stroke-width="1"/><rect x="120" y="73.65" width="8.7" height="8.7" rx="1.5" fill="#0e6a8b"/><rect x="132" y="73.65" width="8.7" height="8.7" rx="1.5" fill="#0e6a8b"/><rect x="144.5" y="74.15" width="7.7" height="7.7" rx="1" fill="#154f87" stroke="#107094" stroke-width="1"/><rect x="156.5" y="74.15" width="7.7" height="7.7" rx="1" fill="#154f87" stroke="#107094" stroke-width="1"/><rect x="168.5" y="74.15" width="7.7" height="7.7" rx="1" fill="#154f87" stroke="#107094" stroke-width="1"/><rect x="180.5" y="74.15" width="7.7" height="7.7" rx="1" fill="#154f87" stroke="#107094" stroke-width="1"/><rect x="192.5" y="74.15" width="7.7" height="7.7" rx="1" fill="#154f87" stroke="#107094" stroke-width="1"/><rect x="204.5" y="74.15" width="7.7" height="7.7" rx="1" fill="#154f87" stroke="#107094" stroke-width="1"/><rect x="216" y="73.65" width="8.7" height="8.7" rx="1.5" fill="#0e6a8b"/><rect x="228" y="73.65" width="8.7" height="8.7" rx="1.5" fill="#0e6a8b"/><rect x="240" y="73.65" width="8.7" height="8.7" rx="1.5" fill="#0e6a8b"/><rect x="252.5" y="74.15" width="7.7" height="7.7" rx="1" fill="#154f87" stroke="#107094" stroke-width="1"/><rect x="264.5" y="74.15" width="7.7" height="7.7" rx="1" fill="#154f87" stroke="#107094" stroke-width="1"/><rect x="276.5" y="74.15" width="7.7" height="7.7" rx="1" fill="#154f87" stroke="#107094" stroke-width="1"/><rect x="288.5" y="74.15" width="7.7" height="7.7" rx="1" fill="#154f87" stroke="#107094" stroke-width="1"/><rect x="300" y="73.65" width="8.7" height="8.7" rx="1.5" fill="#0e6a8b"/><rect x="312.5" y="74.15" width="7.7" height="7.7" rx="1" fill="#154f87" stroke="#107094" stroke-width="1"/><rect x="324" y="73.65" width="8.7" height="8.7" rx="1.5" fill="#0e6a8b"/><rect x="336.5" y="74.15" width="7.7" height="7.7" rx="1" fill="#154f87" stroke="#107094" stroke-width="1"/><rect x="348.5" y="74.15" width="7.7" height="7.7" rx="1" fill="#154f87" stroke="#107094" stroke-width="1"/><rect x="360.5" y="74.15" width="7.7" height="7.7" rx="1" fill="#154f87" stroke="#107094" stroke-width="1"/><rect x="372" y="73.65" width="8.7" height="8.7" rx="1.5" fill="#0e6a8b"/><rect x="384.5" y="74.15" width="7.7" height="7.7" rx="1" fill="#154f87" stroke="#107094" stroke-width="1"/><rect x="396" y="73.65" width="8.7" height="8.7" rx="1.5" fill="#0e6a8b"/><rect x="408.5" y="74.15" width="7.7" height="7.7" rx="1" fill="#154f87" stroke="#107094" stroke-width="1"/><rect x="420" y="73.65" width="8.7" height="8.7" rx="1.5" fill="#0e6a8b"/><rect x="432.5" y="74.15" width="7.7" height="7.7" rx="1" fill="#154f87" stroke="#107094" stroke-width="1"/><rect x="444" y="73.65" width="8.7" height="8.7" rx="1.5" fill="#0e6a8b"/><rect x="456" y="73.65" width="8.7" height="8.7" rx="1.5" fill="#0e6a8b"/><rect x="468.5" y="74.15" width="7.7" height="7.7" rx="1" fill="#154f87" stroke="#107094" stroke-width="1"/><rect x="480" y="73.65" width="8.7" height="8.7" rx="1.5" fill="#0e6a8b"/><rect x="492" y="73.65" width="8.7" height="8.7" rx="1.5" fill="#0e6a8b"/><rect x="504.5" y="74.15" width="7.7" height="7.7" rx="1" fill="#154f87" stroke="#107094" stroke-width="1"/><rect x="516" y="73.65" width="8.7" height="8.7" rx="1.5" fill="#0e6a8b"/><rect x="528" y="73.65" width="8.7" height="8.7" rx="1.5" fill="#0e6a8b"/><rect x="540.5" y="74.15" width="7.7" height="7.7" rx="1" fill="#154f87" stroke="#107094" stroke-width="1"/><rect x="552.5" y="74.15" width="7.7" height="7.7" rx="1" fill="#154f87" stroke="#107094" stroke-width="1"/><rect x="564.5" y="74.15" width="7.7" height="7.7" rx="1" fill="#154f87" stroke="#107094" stroke-width="1"/><rect x="576.5" y="74.15" width="7.7" height="7.7" rx="1" fill="#154f87" stroke="#107094" stroke-width="1"/><rect x="588" y="73.65" width="8.7" height="8.7" rx="1.5" fill="#0e6a8b"/><rect x="600" y="73.65" width="8.7" height="8.7" rx="1.5" fill="#0e6a8b"/><rect x="612" y="73.65" width="8.7" height="8.7" rx="1.5" fill="#0e6a8b"/><rect x="624" y="73.65" width="8.7" height="8.7" rx="1.5" fill="#0e6a8b"/><rect x="636.5" y="74.15" width="7.7" height="7.7" rx="1" fill="#154f87" stroke="#107094" stroke-width="1"/><rect x="648.5" y="74.15" width="7.7" height="7.7" rx="1" fill="#154f87" stroke="#107094" stroke-width="1"/></svg></svg>
<span class="t" style="left:263px;top:484px;font-size:9.1px;line-height:10px;color:#a9cbe8;transform-origin:0 8px;transform:translate(0.90px,0.90px) rotate(0.03deg) scaleX(0.9202);">Sun</span>
<span class="t" style="left:929px;top:484px;font-size:9.1px;line-height:10px;color:#a9cbe8;transform-origin:0 8px;transform:translate(0.10px,0.90px) rotate(0.03deg) scaleX(0.9202);">Sun</span>
<span class="t" style="left:263px;top:496px;font-size:9.1px;line-height:10px;color:#a9cbe8;transform-origin:0 8px;transform:translate(0.90px,0.90px) rotate(0.03deg) scaleX(0.9999);">Mon</span>
<span class="t" style="left:926px;top:496px;font-size:9.1px;line-height:10px;color:#a9cbe8;transform-origin:0 8px;transform:translate(0.30px,0.90px) rotate(0.03deg) scaleX(0.9999);">Mon</span>
<span class="t" style="left:263px;top:508px;font-size:9.1px;line-height:10px;color:#a9cbe8;transform-origin:0 8px;transform:translate(0.90px,0.90px) rotate(0.03deg) scaleX(0.9516);">Tue</span>
<span class="t" style="left:929px;top:508px;font-size:9.1px;line-height:10px;color:#a9cbe8;transform-origin:0 8px;transform:translate(0.40px,0.90px) rotate(0.03deg) scaleX(0.9516);">Tue</span>
<span class="t" style="left:263px;top:520px;font-size:9.1px;line-height:10px;color:#a9cbe8;transform-origin:0 8px;transform:translate(0.90px,0.90px) rotate(0.03deg) scaleX(0.9274);">Wed</span>
<span class="t" style="left:926px;top:520px;font-size:9.1px;line-height:10px;color:#a9cbe8;transform-origin:0 8px;transform:translate(0.80px,0.90px) rotate(0.03deg) scaleX(0.9274);">Wed</span>
<span class="t" style="left:263px;top:532px;font-size:9.1px;line-height:10px;color:#a9cbe8;transform-origin:0 8px;transform:translate(0.90px,0.90px) rotate(0.03deg) scaleX(0.9693);">Thu</span>
<span class="t" style="left:928px;top:532px;font-size:9.1px;line-height:10px;color:#a9cbe8;transform-origin:0 8px;transform:translate(0.80px,0.90px) rotate(0.03deg) scaleX(0.9693);">Thu</span>
<span class="t" style="left:263px;top:544px;font-size:9.1px;line-height:10px;color:#a9cbe8;transform-origin:0 8px;transform:translate(0.90px,0.90px) rotate(0.03deg) scaleX(0.9990);">Fri</span>
<span class="t" style="left:933px;top:544px;font-size:9.1px;line-height:10px;color:#a9cbe8;transform-origin:0 8px;transform:translate(0.40px,0.90px) rotate(0.03deg) scaleX(0.9990);">Fri</span>
<span class="t" style="left:263px;top:556px;font-size:9.1px;line-height:10px;color:#a9cbe8;transform-origin:0 8px;transform:translate(0.90px,0.90px) rotate(0.03deg) scaleX(0.9664);">Sat</span>
<span class="t" style="left:930px;top:556px;font-size:9.1px;line-height:10px;color:#a9cbe8;transform-origin:0 8px;transform:translate(0.80px,0.90px) rotate(0.03deg) scaleX(0.9664);">Sat</span>
<svg class="r" style="left:0;top:0" width="1024" height="576" viewBox="0 0 1024 576"><rect x="472.70" y="87.60" width="170.00" height="95.20" fill="#145c92" rx="1.5" stroke="#5aaee8" stroke-width="0.8"/><svg x="500.3" y="182.2" width="16" height="9" viewBox="0 0 16 9"><path d="M2.2 0.4L8 7.4L13.8 0.4" fill="#145c92" stroke="#5aaee8" stroke-width="0.8"/><rect x="1.6" y="0" width="12.8" height="0.85" fill="#145c92"/></svg></svg>
<span class="t" style="left:480px;top:94px;font-size:12.2px;line-height:14px;color:#6ec6fb;transform-origin:0 11px;-webkit-text-stroke:0.3px currentColor;transform:translate(0.10px,0.50px) rotate(0.03deg) scaleX(0.9650);">April 7, 2021</span>
<svg class="r" style="left:0;top:0" width="1024" height="576" viewBox="0 0 1024 576"><rect x="480.00" y="115.80" width="29.10" height="10.00" fill="#1a80c8" rx="5"/></svg>
<span class="t" style="left:485px;top:116px;font-size:6.6px;line-height:7px;color:#ffffff;transform-origin:0 6px;font-weight:700;transform:translate(0.60px,0.80px) rotate(0.03deg) scaleX(0.9211);">noblis</span>
<svg class="r" style="left:0;top:0" width="1024" height="576" viewBox="0 0 1024 576"><rect x="512.00" y="115.80" width="47.80" height="10.00" fill="#1a80c8" rx="5"/></svg>
<span class="t" style="left:517px;top:116px;font-size:6.6px;line-height:7px;color:#ffffff;transform-origin:0 6px;font-weight:700;transform:translate(0.60px,0.80px) rotate(0.03deg) scaleX(0.9412);">ransomware</span>
<svg class="r" style="left:0;top:0" width="1024" height="576" viewBox="0 0 1024 576"><rect x="562.90" y="115.80" width="19.00" height="10.00" fill="#1a80c8" rx="5"/></svg>
<span class="t" style="left:568px;top:116px;font-size:6.6px;line-height:7px;color:#ffffff;transform-origin:0 6px;font-weight:700;transform:translate(0.50px,0.80px) rotate(0.03deg) scaleX(0.9245);">rat</span>
<svg class="r" style="left:0;top:0" width="1024" height="576" viewBox="0 0 1024 576"><rect x="585.00" y="115.80" width="29.70" height="10.00" fill="#1a80c8" rx="5"/></svg>
<span class="t" style="left:590px;top:116px;font-size:6.6px;line-height:7px;color:#ffffff;transform-origin:0 6px;font-weight:700;transform:translate(0.60px,0.80px) rotate(0.03deg) scaleX(0.9340);">loader</span>
<svg class="r" style="left:0;top:0" width="1024" height="576" viewBox="0 0 1024 576"><rect x="480.00" y="129.30" width="40.30" height="10.00" fill="#1a80c8" rx="5"/></svg>
<span class="t" style="left:485px;top:130px;font-size:6.6px;line-height:7px;color:#ffffff;transform-origin:0 6px;font-weight:700;transform:translate(0.60px,0.30px) rotate(0.03deg) scaleX(0.9562);">formbook</span>
<svg class="r" style="left:0;top:0" width="1024" height="576" viewBox="0 0 1024 576"><rect x="523.30" y="129.30" width="31.40" height="10.00" fill="#1a80c8" rx="5"/></svg>
<span class="t" style="left:528px;top:130px;font-size:6.6px;line-height:7px;color:#ffffff;transform-origin:0 6px;font-weight:700;transform:translate(0.90px,0.30px) rotate(0.03deg) scaleX(0.9491);">stealer</span>
<span class="t" style="left:559px;top:129px;font-size:9.3px;line-height:10px;color:#a9cbe8;transform-origin:0 8px;transform:translate(0.40px,0.00px) rotate(0.03deg) scaleX(0.9669);">and other 16</span>
<span class="t" style="left:480px;top:148px;font-size:13.2px;line-height:15px;color:#d3e5f7;transform-origin:0 12px;transform:translate(0.00px,0.90px) rotate(0.03deg) scaleX(1.0080);">418</span>
<span class="t" style="left:480px;top:167px;font-size:9.3px;line-height:10px;color:#9ec3e6;transform-origin:0 8px;transform:translate(0.00px,0.00px) rotate(0.03deg) scaleX(0.9759);">Tasks</span>
<span class="t" style="left:518px;top:148px;font-size:13.2px;line-height:15px;color:#d3e5f7;transform-origin:0 12px;transform:translate(0.80px,0.90px) rotate(0.03deg) scaleX(0.9808);">4</span>
<span class="t" style="left:518px;top:167px;font-size:9.3px;line-height:10px;color:#9ec3e6;transform-origin:0 8px;transform:translate(0.80px,0.00px) rotate(0.03deg) scaleX(0.9406);">Reruns</span>
<span class="t" style="left:565px;top:148px;font-size:13.2px;line-height:15px;color:#d3e5f7;transform-origin:0 12px;transform:translate(0.20px,0.90px) rotate(0.03deg) scaleX(0.9808);">3</span>
<span class="t" style="left:565px;top:167px;font-size:9.3px;line-height:10px;color:#9ec3e6;transform-origin:0 8px;transform:translate(0.20px,0.00px) rotate(0.03deg) scaleX(0.9613);">Uploads</span>
<span class="t" style="left:611px;top:148px;font-size:13.2px;line-height:15px;color:#d3e5f7;transform-origin:0 12px;transform:translate(0.60px,0.90px) rotate(0.03deg) scaleX(0.9808);">3</span>
<span class="t" style="left:611px;top:167px;font-size:9.3px;line-height:10px;color:#9ec3e6;transform-origin:0 8px;transform:translate(0.60px,0.00px) rotate(0.03deg) scaleX(0.9765);">Links</span>
<svg class="r" style="left:0;top:0" width="1024" height="576" viewBox="0 0 1024 576"><svg x="506" y="196" width="16" height="16" viewBox="506 196 16 16"><path d="M508.6 199L518.2 202.9L515.7 204.6L518.4 207.6L516.2 208.7L513.4 206L512.3 208.4Z" fill="#fff" stroke="#1a2a3a" stroke-width="0.7" stroke-linejoin="round"/></svg></svg>
</div></body></html>
